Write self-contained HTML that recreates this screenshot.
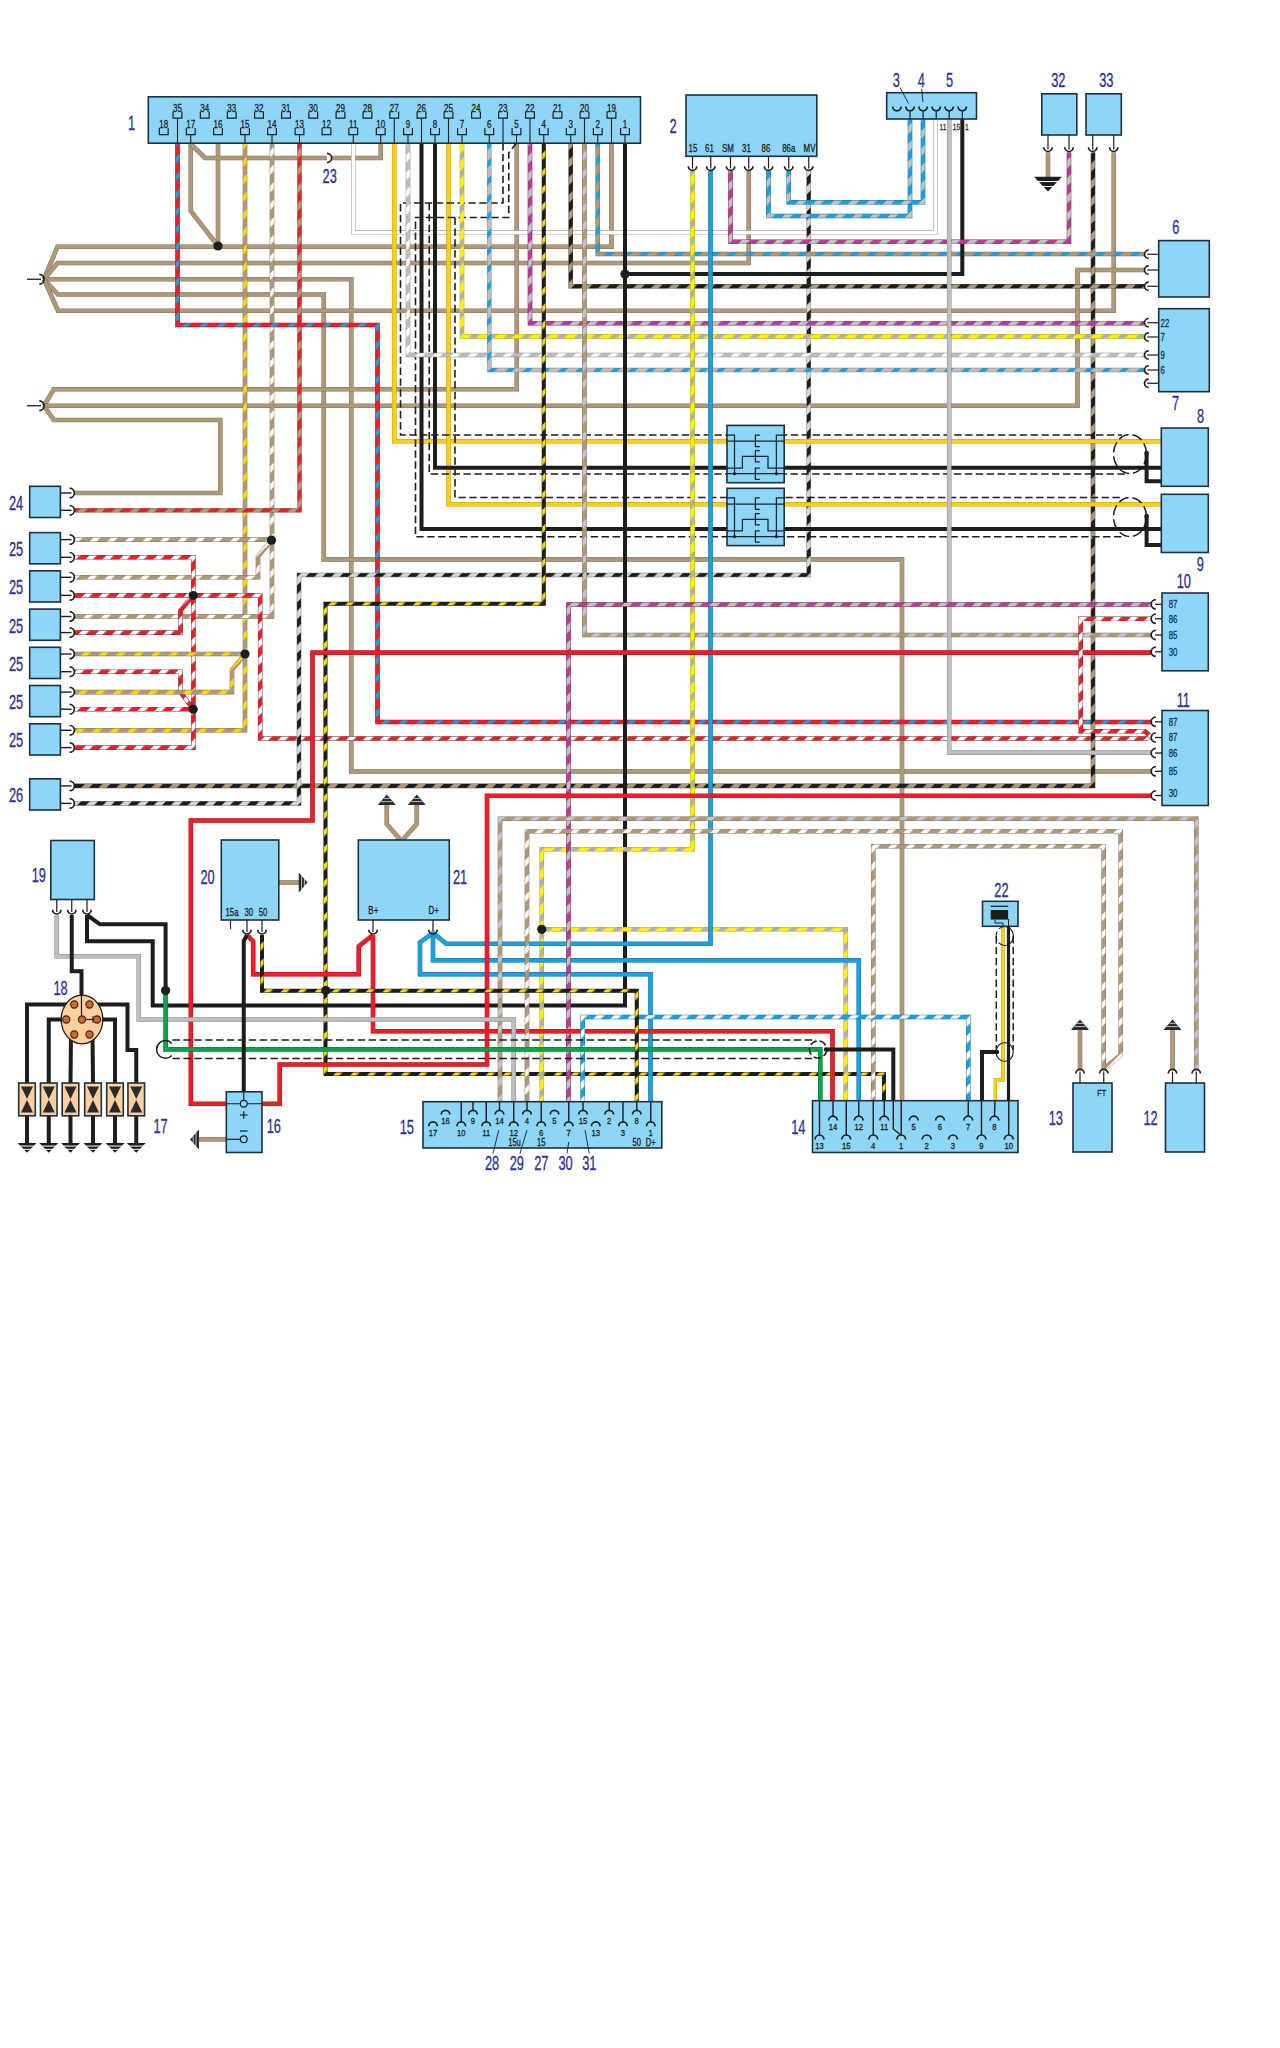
<!DOCTYPE html>
<html><head><meta charset="utf-8"><title>Wiring diagram</title>
<style>
html,body{margin:0;padding:0;background:#fff;}
body{width:1280px;height:2048px;overflow:hidden;font-family:"Liberation Sans",sans-serif;}
svg{display:block;font-family:"Liberation Sans",sans-serif;}
svg path{fill:none;stroke-linejoin:miter;stroke-linecap:butt;}
</style></head><body>
<svg width="1280" height="2048" viewBox="0 0 1280 2048">
<rect x="0" y="0" width="1280" height="2048" fill="#ffffff" stroke="none"/>
<defs>
<pattern id="p_b_g" width="12.4" height="12.4" patternUnits="userSpaceOnUse" patternTransform="rotate(45)"><rect width="12.4" height="12.4" fill="#1d9fe0"/><rect width="5.4" height="12.4" fill="#c4c4c4"/></pattern>
<pattern id="p_b_w" width="12" height="12" patternUnits="userSpaceOnUse" patternTransform="rotate(45)"><rect width="12" height="12" fill="#1d9fe0"/><rect width="5.4" height="12" fill="#ffffff"/></pattern>
<pattern id="p_br_b" width="12.4" height="12.4" patternUnits="userSpaceOnUse" patternTransform="rotate(45)"><rect width="12.4" height="12.4" fill="#b09979"/><rect width="5.6" height="12.4" fill="#1d9fe0"/></pattern>
<pattern id="p_br_g" width="12.4" height="12.4" patternUnits="userSpaceOnUse" patternTransform="rotate(45)"><rect width="12.4" height="12.4" fill="#b09979"/><rect width="5" height="12.4" fill="#c3c6cf"/></pattern>
<pattern id="p_br_r" width="12.4" height="12.4" patternUnits="userSpaceOnUse" patternTransform="rotate(45)"><rect width="12.4" height="12.4" fill="#b09979"/><rect width="7.2" height="12.4" fill="#e91f2a"/></pattern>
<pattern id="p_br_w" width="12.4" height="12.4" patternUnits="userSpaceOnUse" patternTransform="rotate(45)"><rect width="12.4" height="12.4" fill="#b09979"/><rect width="4.6" height="12.4" fill="#ffffff"/></pattern>
<pattern id="p_br_y" width="12.4" height="12.4" patternUnits="userSpaceOnUse" patternTransform="rotate(45)"><rect width="12.4" height="12.4" fill="#b09979"/><rect width="4.8" height="12.4" fill="#ffd800"/></pattern>
<pattern id="p_g_b" width="12.4" height="12.4" patternUnits="userSpaceOnUse" patternTransform="rotate(45)"><rect width="12.4" height="12.4" fill="#bebebe"/><rect width="4.8" height="12.4" fill="#1d9fe0"/></pattern>
<pattern id="p_g_w" width="12.4" height="12.4" patternUnits="userSpaceOnUse" patternTransform="rotate(45)"><rect width="12.4" height="12.4" fill="#bebebe"/><rect width="5.2" height="12.4" fill="#ffffff"/></pattern>
<pattern id="p_k_br" width="12.4" height="12.4" patternUnits="userSpaceOnUse" patternTransform="rotate(45)"><rect width="12.4" height="12.4" fill="#b09979"/><rect width="6.8" height="12.4" fill="#1d1d1b"/></pattern>
<pattern id="p_k_g" width="12" height="12" patternUnits="userSpaceOnUse" patternTransform="rotate(45)"><rect width="12" height="12" fill="#d6d6d6"/><rect width="6.2" height="12" fill="#1d1d1b"/></pattern>
<pattern id="p_k_y" width="12" height="12" patternUnits="userSpaceOnUse" patternTransform="rotate(45)"><rect width="12" height="12" fill="#1d1d1b"/><rect width="4.5" height="12" fill="#ffd800"/></pattern>
<pattern id="p_m_g" width="12.4" height="12.4" patternUnits="userSpaceOnUse" patternTransform="rotate(45)"><rect width="12.4" height="12.4" fill="#b4408f"/><rect width="5.6" height="12.4" fill="#c2c2c2"/></pattern>
<pattern id="p_r_b" width="12.4" height="12.4" patternUnits="userSpaceOnUse" patternTransform="rotate(45)"><rect width="12.4" height="12.4" fill="#e91f2a"/><rect width="4.4" height="12.4" fill="#1d9fe0"/></pattern>
<pattern id="p_r_w" width="12" height="12" patternUnits="userSpaceOnUse" patternTransform="rotate(45)"><rect width="12" height="12" fill="#e91f2a"/><rect width="5.2" height="12" fill="#ffffff"/></pattern>
<pattern id="p_y_g" width="12.4" height="12.4" patternUnits="userSpaceOnUse" patternTransform="rotate(45)"><rect width="12.4" height="12.4" fill="#fff200"/><rect width="5.4" height="12.4" fill="#b0b0b0"/></pattern>
</defs>
<path d="M611.50 143.00 L611.50 246.70 L57.50 246.70 L44.00 279.25" stroke="#84705a" stroke-width="4.6"/>
<path d="M611.50 143.00 L611.50 246.70 L57.50 246.70 L44.00 279.25" stroke="#b09979" stroke-width="3.7"/>
<path d="M748.75 171.00 L748.75 263.00 L57.50 263.00 L44.00 279.25" stroke="#84705a" stroke-width="4.6"/>
<path d="M748.75 171.00 L748.75 263.00 L57.50 263.00 L44.00 279.25" stroke="#b09979" stroke-width="3.7"/>
<path d="M44.00 279.25 L351.25 279.25 L351.25 771.50 L1151.00 771.50" stroke="#84705a" stroke-width="4.6"/>
<path d="M44.00 279.25 L351.25 279.25 L351.25 771.50 L1151.00 771.50" stroke="#b09979" stroke-width="3.7"/>
<path d="M44.00 279.25 L58.00 294.50 L323.75 294.50 L323.75 559.40 L902.00 559.40 L902.00 1100.70" stroke="#84705a" stroke-width="4.6"/>
<path d="M44.00 279.25 L58.00 294.50 L323.75 294.50 L323.75 559.40 L902.00 559.40 L902.00 1100.70" stroke="#b09979" stroke-width="3.7"/>
<path d="M44.00 279.25 L58.00 310.75 L1113.75 310.75 L1113.75 152.50" stroke="#84705a" stroke-width="4.6"/>
<path d="M44.00 279.25 L58.00 310.75 L1113.75 310.75 L1113.75 152.50" stroke="#b09979" stroke-width="3.7"/>
<path d="M44.00 405.75 L53.75 389.25 L516.75 389.25 L516.75 143.00" stroke="#84705a" stroke-width="4.6"/>
<path d="M44.00 405.75 L53.75 389.25 L516.75 389.25 L516.75 143.00" stroke="#b09979" stroke-width="3.7"/>
<path d="M44.00 405.75 L1077.50 405.75 L1077.50 270.00 L1144.00 270.00" stroke="#84705a" stroke-width="4.6"/>
<path d="M44.00 405.75 L1077.50 405.75 L1077.50 270.00 L1144.00 270.00" stroke="#b09979" stroke-width="3.7"/>
<path d="M44.00 405.75 L53.75 420.00 L220.30 420.00 L220.30 493.00 L75.00 493.00" stroke="#84705a" stroke-width="4.6"/>
<path d="M44.00 405.75 L53.75 420.00 L220.30 420.00 L220.30 493.00 L75.00 493.00" stroke="#b09979" stroke-width="3.7"/>
<path d="M218.00 143.00 L218.00 246.00" stroke="#84705a" stroke-width="4.6"/>
<path d="M218.00 143.00 L218.00 246.00" stroke="#b09979" stroke-width="3.7"/>
<path d="M190.75 143.00 L190.75 211.00 L218.00 246.00" stroke="#84705a" stroke-width="4.6"/>
<path d="M190.75 143.00 L190.75 211.00 L218.00 246.00" stroke="#b09979" stroke-width="3.7"/>
<path d="M190.75 144.00 L205.00 158.00 L380.75 158.00 L380.75 143.00" stroke="#84705a" stroke-width="4.6"/>
<path d="M190.75 144.00 L205.00 158.00 L380.75 158.00 L380.75 143.00" stroke="#b09979" stroke-width="3.7"/>
<path d="M353.25 143.00 L353.25 232.40 L935.50 232.40 L935.50 119.00" stroke="#8c8c8c" stroke-width="4.4"/>
<path d="M353.25 143.00 L353.25 232.40 L935.50 232.40 L935.50 119.00" stroke="#ffffff" stroke-width="3.5"/>
<path d="M245.00 143.00 L245.00 730.30 L75.00 730.30" stroke="#84705a" stroke-width="4.6"/>
<path d="M245.00 143.00 L245.00 730.30 L75.00 730.30" stroke="url(#p_br_y)" stroke-width="3.7"/>
<path d="M272.00 143.00 L272.00 616.50 L75.00 616.50" stroke="#84705a" stroke-width="4.6"/>
<path d="M272.00 143.00 L272.00 616.50 L75.00 616.50" stroke="url(#p_br_w)" stroke-width="3.7"/>
<path d="M299.50 143.00 L299.50 510.30 L75.00 510.30" stroke="#84705a" stroke-width="4.6"/>
<path d="M299.50 143.00 L299.50 510.30 L75.00 510.30" stroke="url(#p_br_r)" stroke-width="3.7"/>
<path d="M177.50 143.00 L177.50 325.00 L377.50 325.00 L377.50 722.00 L1151.00 722.00" stroke="#b5121b" stroke-width="4.6"/>
<path d="M177.50 143.00 L177.50 325.00 L377.50 325.00 L377.50 722.00 L1151.00 722.00" stroke="url(#p_r_b)" stroke-width="3.7"/>
<path d="M75.00 539.60 L271.50 539.60" stroke="#84705a" stroke-width="4.6"/>
<path d="M75.00 539.60 L271.50 539.60" stroke="url(#p_br_w)" stroke-width="3.7"/>
<path d="M75.00 577.30 L258.00 577.30 L258.00 556.50 L271.50 540.50" stroke="#84705a" stroke-width="4.6"/>
<path d="M75.00 577.30 L258.00 577.30 L258.00 556.50 L271.50 540.50" stroke="url(#p_br_w)" stroke-width="3.7"/>
<path d="M75.00 557.30 L193.40 557.30 L193.40 747.60 L75.00 747.60" stroke="#6b3a3a" stroke-width="4.6"/>
<path d="M75.00 557.30 L193.40 557.30 L193.40 747.60 L75.00 747.60" stroke="url(#p_r_w)" stroke-width="3.7"/>
<path d="M75.00 595.40 L260.20 595.40 L260.20 738.50 L1145.00 738.50 L1151.00 737.50" stroke="#6b3a3a" stroke-width="4.6"/>
<path d="M75.00 595.40 L260.20 595.40 L260.20 738.50 L1145.00 738.50 L1151.00 737.50" stroke="url(#p_r_w)" stroke-width="3.7"/>
<path d="M75.00 632.60 L180.50 632.60 L180.50 610.50 L193.00 595.60" stroke="#6b3a3a" stroke-width="4.6"/>
<path d="M75.00 632.60 L180.50 632.60 L180.50 610.50 L193.00 595.60" stroke="url(#p_r_w)" stroke-width="3.7"/>
<path d="M75.00 654.00 L245.00 654.00" stroke="#84705a" stroke-width="4.6"/>
<path d="M75.00 654.00 L245.00 654.00" stroke="url(#p_br_y)" stroke-width="3.7"/>
<path d="M75.00 671.70 L180.50 671.70 L180.50 692.00 L193.00 709.00" stroke="#6b3a3a" stroke-width="4.6"/>
<path d="M75.00 671.70 L180.50 671.70 L180.50 692.00 L193.00 709.00" stroke="url(#p_r_w)" stroke-width="3.7"/>
<path d="M75.00 692.10 L232.00 692.10 L232.00 669.80 L245.00 654.20" stroke="#84705a" stroke-width="4.6"/>
<path d="M75.00 692.10 L232.00 692.10 L232.00 669.80 L245.00 654.20" stroke="url(#p_br_y)" stroke-width="3.7"/>
<path d="M75.00 709.20 L193.00 709.20" stroke="#6b3a3a" stroke-width="4.6"/>
<path d="M75.00 709.20 L193.00 709.20" stroke="url(#p_r_w)" stroke-width="3.7"/>
<path d="M75.00 785.90 L1093.00 785.90 L1093.00 152.50" stroke="#5a4c3c" stroke-width="4.6"/>
<path d="M75.00 785.90 L1093.00 785.90 L1093.00 152.50" stroke="url(#p_k_br)" stroke-width="3.7"/>
<path d="M75.00 803.40 L299.00 803.40 L299.00 575.00 L808.75 575.00 L808.75 171.00" stroke="#777777" stroke-width="4.6"/>
<path d="M75.00 803.40 L299.00 803.40 L299.00 575.00 L808.75 575.00 L808.75 171.00" stroke="url(#p_k_g)" stroke-width="3.7"/>
<path d="M394.25 143.00 L394.25 441.25 L1161.00 441.25" stroke="#c49612" stroke-width="4.6"/>
<path d="M394.25 143.00 L394.25 441.25 L1161.00 441.25" stroke="#fdd015" stroke-width="3.7"/>
<path d="M448.50 143.00 L448.50 504.30 L1161.00 504.30" stroke="#c49612" stroke-width="4.6"/>
<path d="M448.50 143.00 L448.50 504.30 L1161.00 504.30" stroke="#fdd015" stroke-width="3.7"/>
<path d="M421.50 143.00 L421.50 528.90 L1161.00 528.90" stroke="#1d1d1b" stroke-width="4.0"/>
<path d="M435.00 143.00 L435.00 467.80 L1161.00 467.80" stroke="#1d1d1b" stroke-width="4.0"/>
<path d="M1146.60 453.00 L1146.60 481.30 L1161.00 481.30" stroke="#1d1d1b" stroke-width="4.0"/>
<path d="M1146.60 516.00 L1146.60 545.00 L1161.00 545.00" stroke="#1d1d1b" stroke-width="4.0"/>
<path d="M503.00 143.00 L503.00 203.00 L400.50 203.00 L400.50 435.00 L1122.00 435.00" stroke="#1d1d1b" stroke-width="1.60" stroke-dasharray="7.4 3.5"/>
<path d="M429.25 203.00 L429.25 474.00 L1125.00 474.00" stroke="#1d1d1b" stroke-width="1.60" stroke-dasharray="7.4 3.5"/>
<path d="M516.50 143.00 L508.75 153.00 L508.75 217.50 L415.50 217.50 L415.50 536.80 L1125.00 536.80" stroke="#1d1d1b" stroke-width="1.60" stroke-dasharray="7.4 3.5"/>
<path d="M455.00 217.50 L455.00 497.50 L1122.00 497.50" stroke="#1d1d1b" stroke-width="1.60" stroke-dasharray="7.4 3.5"/>
<ellipse cx="1130" cy="454" rx="16.5" ry="19.5" fill="none" stroke="#1d1d1b" stroke-width="1.5" stroke-dasharray="10.5 4"/>
<ellipse cx="1130" cy="517" rx="16.5" ry="19.5" fill="none" stroke="#1d1d1b" stroke-width="1.5" stroke-dasharray="10.5 4"/>
<path d="M408.00 143.00 L408.00 355.00 L1144.00 355.00" stroke="#8a8a8a" stroke-width="4.6"/>
<path d="M408.00 143.00 L408.00 355.00 L1144.00 355.00" stroke="url(#p_g_w)" stroke-width="3.7"/>
<path d="M462.00 143.00 L462.00 336.40 L1144.00 336.40" stroke="#b8ae00" stroke-width="4.6"/>
<path d="M462.00 143.00 L462.00 336.40 L1144.00 336.40" stroke="url(#p_y_g)" stroke-width="3.7"/>
<path d="M489.25 143.00 L489.25 370.00 L1144.00 370.00" stroke="#8a8a8a" stroke-width="4.6"/>
<path d="M489.25 143.00 L489.25 370.00 L1144.00 370.00" stroke="url(#p_g_b)" stroke-width="3.7"/>
<path d="M530.00 143.00 L530.00 323.20 L1144.00 323.20" stroke="#7d2865" stroke-width="4.6"/>
<path d="M530.00 143.00 L530.00 323.20 L1144.00 323.20" stroke="url(#p_m_g)" stroke-width="3.7"/>
<path d="M543.75 143.00 L543.75 603.80 L325.50 603.80 L325.50 1074.00 L884.00 1074.00 L884.00 1100.70" stroke="#1d1d1b" stroke-width="4.0"/>
<path d="M543.75 143.00 L543.75 603.80 L325.50 603.80 L325.50 1074.00 L884.00 1074.00 L884.00 1100.70" stroke="url(#p_k_y)" stroke-width="3.1"/>
<path d="M570.75 143.00 L570.75 286.30 L1144.00 286.30" stroke="#5a4c3c" stroke-width="4.6"/>
<path d="M570.75 143.00 L570.75 286.30 L1144.00 286.30" stroke="url(#p_k_br)" stroke-width="3.7"/>
<path d="M584.50 143.00 L584.50 635.00 L1151.00 635.00" stroke="#84705a" stroke-width="4.6"/>
<path d="M584.50 143.00 L584.50 635.00 L1151.00 635.00" stroke="url(#p_br_g)" stroke-width="3.7"/>
<path d="M597.75 143.00 L597.75 254.00 L1144.00 254.00" stroke="#84705a" stroke-width="4.6"/>
<path d="M597.75 143.00 L597.75 254.00 L1144.00 254.00" stroke="url(#p_br_b)" stroke-width="3.7"/>
<path d="M625.00 143.00 L625.00 1005.50 L152.70 1005.50 L152.70 941.30 L87.00 941.30 L87.00 915.00" stroke="#1d1d1b" stroke-width="4.0"/>
<path d="M625.00 274.10 L962.30 274.10 L962.30 119.00" stroke="#1d1d1b" stroke-width="4.0"/>
<path d="M692.50 171.00 L692.50 849.30 L541.75 849.30 L541.75 1101.70" stroke="#b8ae00" stroke-width="4.6"/>
<path d="M692.50 171.00 L692.50 849.30 L541.75 849.30 L541.75 1101.70" stroke="url(#p_y_g)" stroke-width="3.7"/>
<path d="M541.75 929.30 L845.75 929.30 L845.75 1100.70" stroke="#b8ae00" stroke-width="4.6"/>
<path d="M541.75 929.30 L845.75 929.30 L845.75 1100.70" stroke="url(#p_y_g)" stroke-width="3.7"/>
<path d="M710.50 171.00 L710.50 943.80 L446.30 943.80 L433.00 933.00" stroke="#14709c" stroke-width="4.6"/>
<path d="M710.50 171.00 L710.50 943.80 L446.30 943.80 L433.00 933.00" stroke="#1d9fe0" stroke-width="3.7"/>
<path d="M433.00 933.00 L433.00 960.30 L858.75 960.30 L858.75 1100.70" stroke="#14709c" stroke-width="4.6"/>
<path d="M433.00 933.00 L433.00 960.30 L858.75 960.30 L858.75 1100.70" stroke="#1d9fe0" stroke-width="3.7"/>
<path d="M433.00 933.00 L420.00 942.50 L420.00 974.30 L650.50 974.30 L650.50 1101.70" stroke="#14709c" stroke-width="4.6"/>
<path d="M433.00 933.00 L420.00 942.50 L420.00 974.30 L650.50 974.30 L650.50 1101.70" stroke="#1d9fe0" stroke-width="3.7"/>
<path d="M730.50 171.00 L730.50 241.80 L1069.00 241.80 L1069.00 152.50" stroke="#7d2865" stroke-width="4.6"/>
<path d="M730.50 171.00 L730.50 241.80 L1069.00 241.80 L1069.00 152.50" stroke="url(#p_m_g)" stroke-width="3.7"/>
<path d="M768.50 171.00 L768.50 216.00 L910.00 216.00 L910.00 119.00" stroke="#14709c" stroke-width="4.6"/>
<path d="M768.50 171.00 L768.50 216.00 L910.00 216.00 L910.00 119.00" stroke="url(#p_b_g)" stroke-width="3.7"/>
<path d="M788.75 171.00 L788.75 202.30 L923.00 202.30 L923.00 119.00" stroke="#14709c" stroke-width="4.6"/>
<path d="M788.75 171.00 L788.75 202.30 L923.00 202.30 L923.00 119.00" stroke="url(#p_b_g)" stroke-width="3.7"/>
<path d="M949.20 119.00 L949.20 752.60 L1151.00 752.60" stroke="#8a8a8a" stroke-width="4.6"/>
<path d="M949.20 119.00 L949.20 752.60 L1151.00 752.60" stroke="#bebebe" stroke-width="3.7"/>
<path d="M1048.00 152.50 L1048.00 177.00" stroke="#84705a" stroke-width="4.6"/>
<path d="M1048.00 152.50 L1048.00 177.00" stroke="#b09979" stroke-width="3.7"/>
<path d="M568.50 1101.70 L568.50 604.50 L1151.00 604.50" stroke="#7d2865" stroke-width="4.6"/>
<path d="M568.50 1101.70 L568.50 604.50 L1151.00 604.50" stroke="url(#p_m_g)" stroke-width="3.7"/>
<path d="M1151.00 652.60 L312.50 652.60 L312.50 820.50 L190.80 820.50 L190.80 1103.75 L226.25 1103.75" stroke="#b5121b" stroke-width="4.6"/>
<path d="M1151.00 652.60 L312.50 652.60 L312.50 820.50 L190.80 820.50 L190.80 1103.75 L226.25 1103.75" stroke="#e91f2a" stroke-width="3.7"/>
<path d="M1151.00 795.80 L487.00 795.80 L487.00 1064.50 L279.70 1064.50 L279.70 1103.75 L262.00 1103.75" stroke="#b5121b" stroke-width="4.6"/>
<path d="M1151.00 795.80 L487.00 795.80 L487.00 1064.50 L279.70 1064.50 L279.70 1103.75 L262.00 1103.75" stroke="#e91f2a" stroke-width="3.7"/>
<path d="M247.00 935.00 L253.20 941.50 L253.20 974.30 L358.75 974.30 L358.75 946.30 L373.00 935.00" stroke="#b5121b" stroke-width="4.6"/>
<path d="M247.00 935.00 L253.20 941.50 L253.20 974.30 L358.75 974.30 L358.75 946.30 L373.00 935.00" stroke="#e91f2a" stroke-width="3.7"/>
<path d="M373.00 935.00 L373.00 1031.30 L832.50 1031.30 L832.50 1100.70" stroke="#b5121b" stroke-width="4.6"/>
<path d="M373.00 935.00 L373.00 1031.30 L832.50 1031.30 L832.50 1100.70" stroke="#e91f2a" stroke-width="3.7"/>
<path d="M1151.00 618.80 L1080.75 618.80 L1080.75 731.30 L1145.00 731.30 L1151.00 737.00" stroke="#6b3a3a" stroke-width="4.6"/>
<path d="M1151.00 618.80 L1080.75 618.80 L1080.75 731.30 L1145.00 731.30 L1151.00 737.00" stroke="url(#p_r_w)" stroke-width="3.7"/>
<path d="M500.00 1101.70 L500.00 818.70 L1196.25 818.70 L1196.25 1069.00" stroke="#84705a" stroke-width="4.6"/>
<path d="M500.00 1101.70 L500.00 818.70 L1196.25 818.70 L1196.25 1069.00" stroke="url(#p_br_g)" stroke-width="3.7"/>
<path d="M527.00 1101.70 L527.00 831.20 L1120.75 831.20 L1120.75 1055.00 L1104.50 1068.00" stroke="#84705a" stroke-width="4.6"/>
<path d="M527.00 1101.70 L527.00 831.20 L1120.75 831.20 L1120.75 1055.00 L1104.50 1068.00" stroke="url(#p_br_w)" stroke-width="3.7"/>
<path d="M873.25 1100.70 L873.25 846.30 L1103.75 846.30 L1103.75 1069.00" stroke="#84705a" stroke-width="4.6"/>
<path d="M873.25 1100.70 L873.25 846.30 L1103.75 846.30 L1103.75 1069.00" stroke="url(#p_br_w)" stroke-width="3.7"/>
<path d="M582.70 1101.70 L582.70 1017.00 L968.25 1017.00 L968.25 1100.70" stroke="#14709c" stroke-width="4.6"/>
<path d="M582.70 1101.70 L582.70 1017.00 L968.25 1017.00 L968.25 1100.70" stroke="url(#p_b_w)" stroke-width="3.7"/>
<path d="M56.75 915.00 L56.75 956.30 L138.75 956.30 L138.75 1019.50 L513.75 1019.50 L513.75 1101.70" stroke="#8a8a8a" stroke-width="4.6"/>
<path d="M56.75 915.00 L56.75 956.30 L138.75 956.30 L138.75 1019.50 L513.75 1019.50 L513.75 1101.70" stroke="#bebebe" stroke-width="3.7"/>
<path d="M71.75 915.00 L71.75 971.30 L81.50 971.30 L81.50 996.00" stroke="#1d1d1b" stroke-width="4.0"/>
<path d="M87.00 915.00 L100.00 924.30 L165.60 924.30 L165.60 990.50" stroke="#1d1d1b" stroke-width="4.0"/>
<path d="M165.60 990.50 L165.60 1049.40 L820.30 1049.40 L820.30 1100.70" stroke="#08713a" stroke-width="4.6"/>
<path d="M165.60 990.50 L165.60 1049.40 L820.30 1049.40 L820.30 1100.70" stroke="#0ca34c" stroke-width="3.7"/>
<path d="M172.50 1040.00 L816.00 1040.00" stroke="#1d1d1b" stroke-width="1.60" stroke-dasharray="7.4 3.5"/>
<path d="M172.50 1058.50 L816.00 1058.50" stroke="#1d1d1b" stroke-width="1.60" stroke-dasharray="7.4 3.5"/>
<path d="M171.8 1043.4 A8.8 8.8 0 1 0 171.8 1055.4" stroke="#1d1d1b" stroke-width="1.5"/>
<circle cx="818" cy="1049.4" r="8.6" fill="none" stroke="#1d1d1b" stroke-width="1.5" stroke-dasharray="7.5 3"/>
<path d="M826.00 1049.40 L893.30 1049.40 L893.30 1100.70" stroke="#1d1d1b" stroke-width="4.0"/>
<path d="M247.00 935.00 L243.75 941.00 L243.75 1091.70" stroke="#1d1d1b" stroke-width="4.0"/>
<path d="M262.00 935.00 L262.00 990.70 L636.75 990.70 L636.75 1101.70" stroke="#1d1d1b" stroke-width="4.0"/>
<path d="M262.00 935.00 L262.00 990.70 L636.75 990.70 L636.75 1101.70" stroke="url(#p_k_y)" stroke-width="3.1"/>
<path d="M1003.00 926.00 L1003.00 1080.00 L995.30 1080.00 L995.30 1100.70" stroke="#c49612" stroke-width="3.4"/>
<path d="M1003.00 926.00 L1003.00 1080.00 L995.30 1080.00 L995.30 1100.70" stroke="#fdd015" stroke-width="2.5"/>
<path d="M1008.50 926.00 L1008.50 1100.70" stroke="#1d1d1b" stroke-width="3.2"/>
<path d="M997.00 1052.00 L982.00 1052.00 L982.00 1100.70" stroke="#1d1d1b" stroke-width="4.0"/>
<path d="M996.30 936.00 L996.30 1050.00" stroke="#1d1d1b" stroke-width="1.50" stroke-dasharray="7.4 3.5"/>
<path d="M1013.20 936.00 L1013.20 1050.00" stroke="#1d1d1b" stroke-width="1.50" stroke-dasharray="7.4 3.5"/>
<ellipse cx="1004.7" cy="936" rx="8.6" ry="9.5" fill="none" stroke="#1d1d1b" stroke-width="1.1" stroke-dasharray="9 3"/>
<ellipse cx="1004.7" cy="1052" rx="8.6" ry="9.5" fill="none" stroke="#1d1d1b" stroke-width="1.1"/>
<path d="M386.75 805.00 L386.75 824.00 L400.50 840.00" stroke="#84705a" stroke-width="4.6"/>
<path d="M386.75 805.00 L386.75 824.00 L400.50 840.00" stroke="#b09979" stroke-width="3.7"/>
<path d="M416.75 805.00 L416.75 824.00 L402.50 840.00" stroke="#84705a" stroke-width="4.6"/>
<path d="M416.75 805.00 L416.75 824.00 L402.50 840.00" stroke="#b09979" stroke-width="3.7"/>
<path d="M1080.00 1069.00 L1080.00 1029.00" stroke="#84705a" stroke-width="4.6"/>
<path d="M1080.00 1069.00 L1080.00 1029.00" stroke="#b09979" stroke-width="3.7"/>
<path d="M1172.50 1069.00 L1172.50 1029.00" stroke="#84705a" stroke-width="4.6"/>
<path d="M1172.50 1069.00 L1172.50 1029.00" stroke="#b09979" stroke-width="3.7"/>
<path d="M278.75 882.50 L299.00 882.50" stroke="#84705a" stroke-width="4.6"/>
<path d="M278.75 882.50 L299.00 882.50" stroke="#b09979" stroke-width="3.7"/>
<path d="M226.25 1139.30 L198.50 1139.30" stroke="#84705a" stroke-width="4.6"/>
<path d="M226.25 1139.30 L198.50 1139.30" stroke="#b09979" stroke-width="3.7"/>
<path d="M74.25 1004.50 L27.00 1004.50 L27.00 1083.00" stroke="#1d1d1b" stroke-width="4.0"/>
<path d="M66.25 1019.50 L48.75 1019.50 L48.75 1083.00" stroke="#1d1d1b" stroke-width="4.0"/>
<path d="M71.00 1034.00 L70.50 1083.00" stroke="#1d1d1b" stroke-width="4.0"/>
<path d="M92.50 1034.00 L93.00 1083.00" stroke="#1d1d1b" stroke-width="4.0"/>
<path d="M97.00 1019.50 L115.00 1019.50 L115.00 1083.00" stroke="#1d1d1b" stroke-width="4.0"/>
<path d="M89.50 1004.50 L127.50 1004.50 L127.50 1050.00 L136.25 1050.00 L136.25 1083.00" stroke="#1d1d1b" stroke-width="4.0"/>
<path d="M27.00 1115.00 L27.00 1143.50" stroke="#1d1d1b" stroke-width="4.0"/>
<path d="M48.75 1115.00 L48.75 1143.50" stroke="#1d1d1b" stroke-width="4.0"/>
<path d="M70.50 1115.00 L70.50 1143.50" stroke="#1d1d1b" stroke-width="4.0"/>
<path d="M93.00 1115.00 L93.00 1143.50" stroke="#1d1d1b" stroke-width="4.0"/>
<path d="M115.00 1115.00 L115.00 1143.50" stroke="#1d1d1b" stroke-width="4.0"/>
<path d="M136.25 1115.00 L136.25 1143.50" stroke="#1d1d1b" stroke-width="4.0"/>
<circle cx="218.00" cy="246.00" r="4.60" fill="#1d1d1b" stroke="none"/>
<circle cx="625.00" cy="274.10" r="4.60" fill="#1d1d1b" stroke="none"/>
<circle cx="271.50" cy="540.20" r="4.60" fill="#1d1d1b" stroke="none"/>
<circle cx="193.20" cy="595.50" r="4.60" fill="#1d1d1b" stroke="none"/>
<circle cx="245.00" cy="654.00" r="4.60" fill="#1d1d1b" stroke="none"/>
<circle cx="193.20" cy="709.20" r="4.60" fill="#1d1d1b" stroke="none"/>
<circle cx="165.60" cy="990.50" r="4.60" fill="#1d1d1b" stroke="none"/>
<circle cx="325.80" cy="990.50" r="4.60" fill="#1d1d1b" stroke="none"/>
<circle cx="541.75" cy="929.30" r="4.60" fill="#1d1d1b" stroke="none"/>
<circle cx="1146.60" cy="453.00" r="2.30" fill="#1d1d1b" stroke="none"/>
<circle cx="1146.60" cy="516.00" r="2.30" fill="#1d1d1b" stroke="none"/>
<circle cx="826.00" cy="1049.40" r="2.20" fill="#1d1d1b" stroke="none"/>
<circle cx="997.00" cy="1052.00" r="2.20" fill="#1d1d1b" stroke="none"/>
<polygon points="1034.00,176.80 1062.00,176.80 1048.00,191.60" fill="#1d1d1b" stroke="none"/>
<rect x="1034.00" y="181.03" width="28.00" height="1.00" fill="#ffffff" stroke="none"/>
<rect x="1034.00" y="185.97" width="28.00" height="1.00" fill="#ffffff" stroke="none"/>
<polygon points="17.50,1143.00 36.50,1143.00 27.00,1152.80" fill="#1d1d1b" stroke="none"/>
<rect x="17.50" y="1145.57" width="19.00" height="1.00" fill="#ffffff" stroke="none"/>
<rect x="17.50" y="1148.83" width="19.00" height="1.00" fill="#ffffff" stroke="none"/>
<polygon points="39.25,1143.00 58.25,1143.00 48.75,1152.80" fill="#1d1d1b" stroke="none"/>
<rect x="39.25" y="1145.57" width="19.00" height="1.00" fill="#ffffff" stroke="none"/>
<rect x="39.25" y="1148.83" width="19.00" height="1.00" fill="#ffffff" stroke="none"/>
<polygon points="61.00,1143.00 80.00,1143.00 70.50,1152.80" fill="#1d1d1b" stroke="none"/>
<rect x="61.00" y="1145.57" width="19.00" height="1.00" fill="#ffffff" stroke="none"/>
<rect x="61.00" y="1148.83" width="19.00" height="1.00" fill="#ffffff" stroke="none"/>
<polygon points="83.50,1143.00 102.50,1143.00 93.00,1152.80" fill="#1d1d1b" stroke="none"/>
<rect x="83.50" y="1145.57" width="19.00" height="1.00" fill="#ffffff" stroke="none"/>
<rect x="83.50" y="1148.83" width="19.00" height="1.00" fill="#ffffff" stroke="none"/>
<polygon points="105.50,1143.00 124.50,1143.00 115.00,1152.80" fill="#1d1d1b" stroke="none"/>
<rect x="105.50" y="1145.57" width="19.00" height="1.00" fill="#ffffff" stroke="none"/>
<rect x="105.50" y="1148.83" width="19.00" height="1.00" fill="#ffffff" stroke="none"/>
<polygon points="126.75,1143.00 145.75,1143.00 136.25,1152.80" fill="#1d1d1b" stroke="none"/>
<rect x="126.75" y="1145.57" width="19.00" height="1.00" fill="#ffffff" stroke="none"/>
<rect x="126.75" y="1148.83" width="19.00" height="1.00" fill="#ffffff" stroke="none"/>
<polygon points="377.75,805.00 395.75,805.00 386.75,794.50" fill="#2a2a2a" stroke="none"/>
<path d="M381.25 801.60 L392.25 801.60" stroke="#e6e6e6" stroke-width="0.80"/>
<path d="M383.75 798.40 L389.75 798.40" stroke="#e6e6e6" stroke-width="0.80"/>
<polygon points="407.75,805.00 425.75,805.00 416.75,794.50" fill="#2a2a2a" stroke="none"/>
<path d="M411.25 801.60 L422.25 801.60" stroke="#e6e6e6" stroke-width="0.80"/>
<path d="M413.75 798.40 L419.75 798.40" stroke="#e6e6e6" stroke-width="0.80"/>
<polygon points="1071.00,1030.00 1089.00,1030.00 1080.00,1019.50" fill="#2a2a2a" stroke="none"/>
<path d="M1074.50 1026.60 L1085.50 1026.60" stroke="#e6e6e6" stroke-width="0.80"/>
<path d="M1077.00 1023.40 L1083.00 1023.40" stroke="#e6e6e6" stroke-width="0.80"/>
<polygon points="1163.50,1030.00 1181.50,1030.00 1172.50,1019.50" fill="#2a2a2a" stroke="none"/>
<path d="M1167.00 1026.60 L1178.00 1026.60" stroke="#e6e6e6" stroke-width="0.80"/>
<path d="M1169.50 1023.40 L1175.50 1023.40" stroke="#e6e6e6" stroke-width="0.80"/>
<polygon points="298.75,872.50 298.75,892.50 307.50,882.50" fill="#2a2a2a" stroke="none"/>
<path d="M301.60 876.00 L301.60 889.00" stroke="#e6e6e6" stroke-width="0.80"/>
<path d="M304.40 879.00 L304.40 886.00" stroke="#e6e6e6" stroke-width="0.80"/>
<polygon points="199.00,1129.50 199.00,1149.50 190.00,1139.50" fill="#2a2a2a" stroke="none"/>
<path d="M196.00 1133.00 L196.00 1146.00" stroke="#e6e6e6" stroke-width="0.80"/>
<path d="M193.20 1136.00 L193.20 1143.00" stroke="#e6e6e6" stroke-width="0.80"/>
<rect x="148.30" y="96.80" width="492.20" height="46.40" fill="#8dd6f7" stroke="#1c3040" stroke-width="1.6"/>
<path d="M173.10 111.50 L173.10 118.20 L181.90 118.20 L181.90 111.50" stroke="#1d1d1b" stroke-width="1.20"/>
<text transform="translate(177.50 111.60) scale(0.80 1)" font-size="10.0" fill="#1d1d1b" text-anchor="middle" stroke="#1d1d1b" stroke-width="0.30">35</text>
<path d="M177.50 118.20 L177.50 143.00" stroke="#1d1d1b" stroke-width="1.10"/>
<path d="M200.35 111.50 L200.35 118.20 L209.15 118.20 L209.15 111.50" stroke="#1d1d1b" stroke-width="1.20"/>
<text transform="translate(204.75 111.60) scale(0.80 1)" font-size="10.0" fill="#1d1d1b" text-anchor="middle" stroke="#1d1d1b" stroke-width="0.30">34</text>
<path d="M227.35 111.50 L227.35 118.20 L236.15 118.20 L236.15 111.50" stroke="#1d1d1b" stroke-width="1.20"/>
<text transform="translate(231.75 111.60) scale(0.80 1)" font-size="10.0" fill="#1d1d1b" text-anchor="middle" stroke="#1d1d1b" stroke-width="0.30">33</text>
<path d="M254.60 111.50 L254.60 118.20 L263.40 118.20 L263.40 111.50" stroke="#1d1d1b" stroke-width="1.20"/>
<text transform="translate(259.00 111.60) scale(0.80 1)" font-size="10.0" fill="#1d1d1b" text-anchor="middle" stroke="#1d1d1b" stroke-width="0.30">32</text>
<path d="M281.60 111.50 L281.60 118.20 L290.40 118.20 L290.40 111.50" stroke="#1d1d1b" stroke-width="1.20"/>
<text transform="translate(286.00 111.60) scale(0.80 1)" font-size="10.0" fill="#1d1d1b" text-anchor="middle" stroke="#1d1d1b" stroke-width="0.30">31</text>
<path d="M308.85 111.50 L308.85 118.20 L317.65 118.20 L317.65 111.50" stroke="#1d1d1b" stroke-width="1.20"/>
<text transform="translate(313.25 111.60) scale(0.80 1)" font-size="10.0" fill="#1d1d1b" text-anchor="middle" stroke="#1d1d1b" stroke-width="0.30">30</text>
<path d="M336.10 111.50 L336.10 118.20 L344.90 118.20 L344.90 111.50" stroke="#1d1d1b" stroke-width="1.20"/>
<text transform="translate(340.50 111.60) scale(0.80 1)" font-size="10.0" fill="#1d1d1b" text-anchor="middle" stroke="#1d1d1b" stroke-width="0.30">29</text>
<path d="M363.10 111.50 L363.10 118.20 L371.90 118.20 L371.90 111.50" stroke="#1d1d1b" stroke-width="1.20"/>
<text transform="translate(367.50 111.60) scale(0.80 1)" font-size="10.0" fill="#1d1d1b" text-anchor="middle" stroke="#1d1d1b" stroke-width="0.30">28</text>
<path d="M389.85 111.50 L389.85 118.20 L398.65 118.20 L398.65 111.50" stroke="#1d1d1b" stroke-width="1.20"/>
<text transform="translate(394.25 111.60) scale(0.80 1)" font-size="10.0" fill="#1d1d1b" text-anchor="middle" stroke="#1d1d1b" stroke-width="0.30">27</text>
<path d="M394.25 118.20 L394.25 143.00" stroke="#1d1d1b" stroke-width="1.10"/>
<path d="M417.10 111.50 L417.10 118.20 L425.90 118.20 L425.90 111.50" stroke="#1d1d1b" stroke-width="1.20"/>
<text transform="translate(421.50 111.60) scale(0.80 1)" font-size="10.0" fill="#1d1d1b" text-anchor="middle" stroke="#1d1d1b" stroke-width="0.30">26</text>
<path d="M421.50 118.20 L421.50 143.00" stroke="#1d1d1b" stroke-width="1.10"/>
<path d="M444.10 111.50 L444.10 118.20 L452.90 118.20 L452.90 111.50" stroke="#1d1d1b" stroke-width="1.20"/>
<text transform="translate(448.50 111.60) scale(0.80 1)" font-size="10.0" fill="#1d1d1b" text-anchor="middle" stroke="#1d1d1b" stroke-width="0.30">25</text>
<path d="M448.50 118.20 L448.50 143.00" stroke="#1d1d1b" stroke-width="1.10"/>
<path d="M471.60 111.50 L471.60 118.20 L480.40 118.20 L480.40 111.50" stroke="#1d1d1b" stroke-width="1.20"/>
<text transform="translate(476.00 111.60) scale(0.80 1)" font-size="10.0" fill="#1d1d1b" text-anchor="middle" stroke="#1d1d1b" stroke-width="0.30">24</text>
<path d="M498.60 111.50 L498.60 118.20 L507.40 118.20 L507.40 111.50" stroke="#1d1d1b" stroke-width="1.20"/>
<text transform="translate(503.00 111.60) scale(0.80 1)" font-size="10.0" fill="#1d1d1b" text-anchor="middle" stroke="#1d1d1b" stroke-width="0.30">23</text>
<path d="M503.00 118.20 L503.00 143.00" stroke="#1d1d1b" stroke-width="1.10"/>
<path d="M525.60 111.50 L525.60 118.20 L534.40 118.20 L534.40 111.50" stroke="#1d1d1b" stroke-width="1.20"/>
<text transform="translate(530.00 111.60) scale(0.80 1)" font-size="10.0" fill="#1d1d1b" text-anchor="middle" stroke="#1d1d1b" stroke-width="0.30">22</text>
<path d="M530.00 118.20 L530.00 143.00" stroke="#1d1d1b" stroke-width="1.10"/>
<path d="M553.10 111.50 L553.10 118.20 L561.90 118.20 L561.90 111.50" stroke="#1d1d1b" stroke-width="1.20"/>
<text transform="translate(557.50 111.60) scale(0.80 1)" font-size="10.0" fill="#1d1d1b" text-anchor="middle" stroke="#1d1d1b" stroke-width="0.30">21</text>
<path d="M580.10 111.50 L580.10 118.20 L588.90 118.20 L588.90 111.50" stroke="#1d1d1b" stroke-width="1.20"/>
<text transform="translate(584.50 111.60) scale(0.80 1)" font-size="10.0" fill="#1d1d1b" text-anchor="middle" stroke="#1d1d1b" stroke-width="0.30">20</text>
<path d="M584.50 118.20 L584.50 143.00" stroke="#1d1d1b" stroke-width="1.10"/>
<path d="M607.10 111.50 L607.10 118.20 L615.90 118.20 L615.90 111.50" stroke="#1d1d1b" stroke-width="1.20"/>
<text transform="translate(611.50 111.60) scale(0.80 1)" font-size="10.0" fill="#1d1d1b" text-anchor="middle" stroke="#1d1d1b" stroke-width="0.30">19</text>
<path d="M611.50 118.20 L611.50 143.00" stroke="#1d1d1b" stroke-width="1.10"/>
<path d="M159.35 128.00 L159.35 134.70 L168.15 134.70 L168.15 128.00" stroke="#1d1d1b" stroke-width="1.20"/>
<text transform="translate(163.75 128.10) scale(0.80 1)" font-size="10.0" fill="#1d1d1b" text-anchor="middle" stroke="#1d1d1b" stroke-width="0.30">18</text>
<path d="M186.35 128.00 L186.35 134.70 L195.15 134.70 L195.15 128.00" stroke="#1d1d1b" stroke-width="1.20"/>
<text transform="translate(190.75 128.10) scale(0.80 1)" font-size="10.0" fill="#1d1d1b" text-anchor="middle" stroke="#1d1d1b" stroke-width="0.30">17</text>
<path d="M190.75 134.70 L190.75 143.00" stroke="#1d1d1b" stroke-width="1.10"/>
<path d="M213.60 128.00 L213.60 134.70 L222.40 134.70 L222.40 128.00" stroke="#1d1d1b" stroke-width="1.20"/>
<text transform="translate(218.00 128.10) scale(0.80 1)" font-size="10.0" fill="#1d1d1b" text-anchor="middle" stroke="#1d1d1b" stroke-width="0.30">16</text>
<path d="M240.60 128.00 L240.60 134.70 L249.40 134.70 L249.40 128.00" stroke="#1d1d1b" stroke-width="1.20"/>
<text transform="translate(245.00 128.10) scale(0.80 1)" font-size="10.0" fill="#1d1d1b" text-anchor="middle" stroke="#1d1d1b" stroke-width="0.30">15</text>
<path d="M245.00 134.70 L245.00 143.00" stroke="#1d1d1b" stroke-width="1.10"/>
<path d="M267.60 128.00 L267.60 134.70 L276.40 134.70 L276.40 128.00" stroke="#1d1d1b" stroke-width="1.20"/>
<text transform="translate(272.00 128.10) scale(0.80 1)" font-size="10.0" fill="#1d1d1b" text-anchor="middle" stroke="#1d1d1b" stroke-width="0.30">14</text>
<path d="M272.00 134.70 L272.00 143.00" stroke="#1d1d1b" stroke-width="1.10"/>
<path d="M295.10 128.00 L295.10 134.70 L303.90 134.70 L303.90 128.00" stroke="#1d1d1b" stroke-width="1.20"/>
<text transform="translate(299.50 128.10) scale(0.80 1)" font-size="10.0" fill="#1d1d1b" text-anchor="middle" stroke="#1d1d1b" stroke-width="0.30">13</text>
<path d="M299.50 134.70 L299.50 143.00" stroke="#1d1d1b" stroke-width="1.10"/>
<path d="M322.10 128.00 L322.10 134.70 L330.90 134.70 L330.90 128.00" stroke="#1d1d1b" stroke-width="1.20"/>
<text transform="translate(326.50 128.10) scale(0.80 1)" font-size="10.0" fill="#1d1d1b" text-anchor="middle" stroke="#1d1d1b" stroke-width="0.30">12</text>
<path d="M348.85 128.00 L348.85 134.70 L357.65 134.70 L357.65 128.00" stroke="#1d1d1b" stroke-width="1.20"/>
<text transform="translate(353.25 128.10) scale(0.80 1)" font-size="10.0" fill="#1d1d1b" text-anchor="middle" stroke="#1d1d1b" stroke-width="0.30">11</text>
<path d="M353.25 134.70 L353.25 143.00" stroke="#1d1d1b" stroke-width="1.10"/>
<path d="M376.35 128.00 L376.35 134.70 L385.15 134.70 L385.15 128.00" stroke="#1d1d1b" stroke-width="1.20"/>
<text transform="translate(380.75 128.10) scale(0.80 1)" font-size="10.0" fill="#1d1d1b" text-anchor="middle" stroke="#1d1d1b" stroke-width="0.30">10</text>
<path d="M380.75 134.70 L380.75 143.00" stroke="#1d1d1b" stroke-width="1.10"/>
<path d="M403.60 128.00 L403.60 134.70 L412.40 134.70 L412.40 128.00" stroke="#1d1d1b" stroke-width="1.20"/>
<text transform="translate(408.00 128.10) scale(0.80 1)" font-size="10.0" fill="#1d1d1b" text-anchor="middle" stroke="#1d1d1b" stroke-width="0.30">9</text>
<path d="M408.00 134.70 L408.00 143.00" stroke="#1d1d1b" stroke-width="1.10"/>
<path d="M430.60 128.00 L430.60 134.70 L439.40 134.70 L439.40 128.00" stroke="#1d1d1b" stroke-width="1.20"/>
<text transform="translate(435.00 128.10) scale(0.80 1)" font-size="10.0" fill="#1d1d1b" text-anchor="middle" stroke="#1d1d1b" stroke-width="0.30">8</text>
<path d="M435.00 134.70 L435.00 143.00" stroke="#1d1d1b" stroke-width="1.10"/>
<path d="M457.60 128.00 L457.60 134.70 L466.40 134.70 L466.40 128.00" stroke="#1d1d1b" stroke-width="1.20"/>
<text transform="translate(462.00 128.10) scale(0.80 1)" font-size="10.0" fill="#1d1d1b" text-anchor="middle" stroke="#1d1d1b" stroke-width="0.30">7</text>
<path d="M462.00 134.70 L462.00 143.00" stroke="#1d1d1b" stroke-width="1.10"/>
<path d="M484.85 128.00 L484.85 134.70 L493.65 134.70 L493.65 128.00" stroke="#1d1d1b" stroke-width="1.20"/>
<text transform="translate(489.25 128.10) scale(0.80 1)" font-size="10.0" fill="#1d1d1b" text-anchor="middle" stroke="#1d1d1b" stroke-width="0.30">6</text>
<path d="M489.25 134.70 L489.25 143.00" stroke="#1d1d1b" stroke-width="1.10"/>
<path d="M512.10 128.00 L512.10 134.70 L520.90 134.70 L520.90 128.00" stroke="#1d1d1b" stroke-width="1.20"/>
<text transform="translate(516.50 128.10) scale(0.80 1)" font-size="10.0" fill="#1d1d1b" text-anchor="middle" stroke="#1d1d1b" stroke-width="0.30">5</text>
<path d="M539.35 128.00 L539.35 134.70 L548.15 134.70 L548.15 128.00" stroke="#1d1d1b" stroke-width="1.20"/>
<text transform="translate(543.75 128.10) scale(0.80 1)" font-size="10.0" fill="#1d1d1b" text-anchor="middle" stroke="#1d1d1b" stroke-width="0.30">4</text>
<path d="M543.75 134.70 L543.75 143.00" stroke="#1d1d1b" stroke-width="1.10"/>
<path d="M566.35 128.00 L566.35 134.70 L575.15 134.70 L575.15 128.00" stroke="#1d1d1b" stroke-width="1.20"/>
<text transform="translate(570.75 128.10) scale(0.80 1)" font-size="10.0" fill="#1d1d1b" text-anchor="middle" stroke="#1d1d1b" stroke-width="0.30">3</text>
<path d="M570.75 134.70 L570.75 143.00" stroke="#1d1d1b" stroke-width="1.10"/>
<path d="M593.35 128.00 L593.35 134.70 L602.15 134.70 L602.15 128.00" stroke="#1d1d1b" stroke-width="1.20"/>
<text transform="translate(597.75 128.10) scale(0.80 1)" font-size="10.0" fill="#1d1d1b" text-anchor="middle" stroke="#1d1d1b" stroke-width="0.30">2</text>
<path d="M597.75 134.70 L597.75 143.00" stroke="#1d1d1b" stroke-width="1.10"/>
<path d="M620.60 128.00 L620.60 134.70 L629.40 134.70 L629.40 128.00" stroke="#1d1d1b" stroke-width="1.20"/>
<text transform="translate(625.00 128.10) scale(0.80 1)" font-size="10.0" fill="#1d1d1b" text-anchor="middle" stroke="#1d1d1b" stroke-width="0.30">1</text>
<path d="M625.00 134.70 L625.00 143.00" stroke="#1d1d1b" stroke-width="1.10"/>
<path d="M516.50 134.70 L516.50 143.00" stroke="#1d1d1b" stroke-width="1.10"/>
<text transform="translate(131.50 130.20) scale(0.64 1)" font-size="20.0" fill="#2e3192" text-anchor="middle" stroke="#2e3192" stroke-width="0.32">1</text>
<path d="M327 153.4 A4.6 4.6 0 0 1 327 162.6 Z" style="fill:#fff" stroke="none"/>
<path d="M327.00 153.40 A4.60 4.60 0 0 1 327.00 162.60" stroke="#1d1d1b" stroke-width="1.70"/>
<text transform="translate(329.70 182.70) scale(0.64 1)" font-size="20.0" fill="#2e3192" text-anchor="middle" stroke="#2e3192" stroke-width="0.32">23</text>
<rect x="686.00" y="95.00" width="130.80" height="61.30" fill="#8dd6f7" stroke="#1c3040" stroke-width="1.6"/>
<text transform="translate(673.00 132.70) scale(0.64 1)" font-size="20.0" fill="#2e3192" text-anchor="middle" stroke="#2e3192" stroke-width="0.32">2</text>
<text transform="translate(693.00 151.74) scale(0.76 1)" font-size="10.4" fill="#1d1d1b" text-anchor="middle" stroke="#1d1d1b" stroke-width="0.30">15</text>
<path d="M692.50 156.30 L692.50 168.50" stroke="#1d1d1b" stroke-width="1.20"/>
<path d="M688.30 166.20 A4.20 4.20 0 0 0 696.70 166.20" stroke="#1d1d1b" stroke-width="1.70"/>
<text transform="translate(709.50 151.74) scale(0.76 1)" font-size="10.4" fill="#1d1d1b" text-anchor="middle" stroke="#1d1d1b" stroke-width="0.30">61</text>
<path d="M710.75 156.30 L710.75 168.50" stroke="#1d1d1b" stroke-width="1.20"/>
<path d="M706.55 166.20 A4.20 4.20 0 0 0 714.95 166.20" stroke="#1d1d1b" stroke-width="1.70"/>
<text transform="translate(728.00 151.74) scale(0.76 1)" font-size="10.4" fill="#1d1d1b" text-anchor="middle" stroke="#1d1d1b" stroke-width="0.30">SM</text>
<path d="M730.50 156.30 L730.50 168.50" stroke="#1d1d1b" stroke-width="1.20"/>
<path d="M726.30 166.20 A4.20 4.20 0 0 0 734.70 166.20" stroke="#1d1d1b" stroke-width="1.70"/>
<text transform="translate(746.50 151.74) scale(0.76 1)" font-size="10.4" fill="#1d1d1b" text-anchor="middle" stroke="#1d1d1b" stroke-width="0.30">31</text>
<path d="M748.75 156.30 L748.75 168.50" stroke="#1d1d1b" stroke-width="1.20"/>
<path d="M744.55 166.20 A4.20 4.20 0 0 0 752.95 166.20" stroke="#1d1d1b" stroke-width="1.70"/>
<text transform="translate(766.00 151.74) scale(0.76 1)" font-size="10.4" fill="#1d1d1b" text-anchor="middle" stroke="#1d1d1b" stroke-width="0.30">86</text>
<path d="M768.50 156.30 L768.50 168.50" stroke="#1d1d1b" stroke-width="1.20"/>
<path d="M764.30 166.20 A4.20 4.20 0 0 0 772.70 166.20" stroke="#1d1d1b" stroke-width="1.70"/>
<text transform="translate(788.75 151.74) scale(0.76 1)" font-size="10.4" fill="#1d1d1b" text-anchor="middle" stroke="#1d1d1b" stroke-width="0.30">86a</text>
<path d="M788.75 156.30 L788.75 168.50" stroke="#1d1d1b" stroke-width="1.20"/>
<path d="M784.55 166.20 A4.20 4.20 0 0 0 792.95 166.20" stroke="#1d1d1b" stroke-width="1.70"/>
<text transform="translate(809.50 151.74) scale(0.76 1)" font-size="10.4" fill="#1d1d1b" text-anchor="middle" stroke="#1d1d1b" stroke-width="0.30">MV</text>
<path d="M808.75 156.30 L808.75 168.50" stroke="#1d1d1b" stroke-width="1.20"/>
<path d="M804.55 166.20 A4.20 4.20 0 0 0 812.95 166.20" stroke="#1d1d1b" stroke-width="1.70"/>
<rect x="886.70" y="92.70" width="89.80" height="26.30" fill="#8dd6f7" stroke="#1c3040" stroke-width="1.6"/>
<path d="M892.70 106.60 A4.20 4.20 0 0 0 901.10 106.60" stroke="#1d1d1b" stroke-width="1.70"/>
<path d="M905.80 106.60 A4.20 4.20 0 0 0 914.20 106.60" stroke="#1d1d1b" stroke-width="1.70"/>
<path d="M910.00 111.50 L910.00 119.00" stroke="#1d1d1b" stroke-width="1.20"/>
<path d="M918.90 106.60 A4.20 4.20 0 0 0 927.30 106.60" stroke="#1d1d1b" stroke-width="1.70"/>
<path d="M923.10 111.50 L923.10 119.00" stroke="#1d1d1b" stroke-width="1.20"/>
<path d="M932.05 106.60 A4.20 4.20 0 0 0 940.45 106.60" stroke="#1d1d1b" stroke-width="1.70"/>
<path d="M936.25 111.50 L936.25 119.00" stroke="#1d1d1b" stroke-width="1.20"/>
<path d="M945.00 106.60 A4.20 4.20 0 0 0 953.40 106.60" stroke="#1d1d1b" stroke-width="1.70"/>
<path d="M949.20 111.50 L949.20 119.00" stroke="#1d1d1b" stroke-width="1.20"/>
<path d="M958.10 106.60 A4.20 4.20 0 0 0 966.50 106.60" stroke="#1d1d1b" stroke-width="1.70"/>
<path d="M962.30 111.50 L962.30 119.00" stroke="#1d1d1b" stroke-width="1.20"/>
<text transform="translate(896.30 87.20) scale(0.64 1)" font-size="20.0" fill="#2e3192" text-anchor="middle" stroke="#2e3192" stroke-width="0.32">3</text>
<text transform="translate(921.30 87.20) scale(0.64 1)" font-size="20.0" fill="#2e3192" text-anchor="middle" stroke="#2e3192" stroke-width="0.32">4</text>
<text transform="translate(949.50 87.20) scale(0.64 1)" font-size="20.0" fill="#2e3192" text-anchor="middle" stroke="#2e3192" stroke-width="0.32">5</text>
<path d="M900.00 87.50 L908.50 103.50" stroke="#1d1d1b" stroke-width="0.90"/>
<path d="M921.60 89.00 L923.00 102.00" stroke="#1d1d1b" stroke-width="0.90"/>
<text transform="translate(943.00 130.26) scale(0.70 1)" font-size="9.6" fill="#333333" text-anchor="middle" stroke="#333333" stroke-width="0.30">11</text>
<text transform="translate(956.40 130.26) scale(0.70 1)" font-size="9.6" fill="#333333" text-anchor="middle" stroke="#333333" stroke-width="0.30">15</text>
<text transform="translate(966.90 130.26) scale(0.70 1)" font-size="9.6" fill="#333333" text-anchor="middle" stroke="#333333" stroke-width="0.30">1</text>
<rect x="1041.80" y="93.80" width="35.00" height="41.20" fill="#8dd6f7" stroke="#1c3040" stroke-width="1.6"/>
<rect x="1086.00" y="93.80" width="35.30" height="41.20" fill="#8dd6f7" stroke="#1c3040" stroke-width="1.6"/>
<text transform="translate(1058.30 87.20) scale(0.64 1)" font-size="20.0" fill="#2e3192" text-anchor="middle" stroke="#2e3192" stroke-width="0.32">32</text>
<text transform="translate(1106.30 87.20) scale(0.64 1)" font-size="20.0" fill="#2e3192" text-anchor="middle" stroke="#2e3192" stroke-width="0.32">33</text>
<path d="M1048.00 135.00 L1048.00 149.50" stroke="#1d1d1b" stroke-width="1.20"/>
<path d="M1043.80 147.30 A4.20 4.20 0 0 0 1052.20 147.30" stroke="#1d1d1b" stroke-width="1.70"/>
<path d="M1069.00 135.00 L1069.00 149.50" stroke="#1d1d1b" stroke-width="1.20"/>
<path d="M1064.80 147.30 A4.20 4.20 0 0 0 1073.20 147.30" stroke="#1d1d1b" stroke-width="1.70"/>
<path d="M1092.75 135.00 L1092.75 149.50" stroke="#1d1d1b" stroke-width="1.20"/>
<path d="M1088.55 147.30 A4.20 4.20 0 0 0 1096.95 147.30" stroke="#1d1d1b" stroke-width="1.70"/>
<path d="M1113.75 135.00 L1113.75 149.50" stroke="#1d1d1b" stroke-width="1.20"/>
<path d="M1109.55 147.30 A4.20 4.20 0 0 0 1117.95 147.30" stroke="#1d1d1b" stroke-width="1.70"/>
<rect x="1158.70" y="240.60" width="50.60" height="56.40" fill="#8dd6f7" stroke="#1c3040" stroke-width="1.6"/>
<text transform="translate(1175.80 233.70) scale(0.64 1)" font-size="20.0" fill="#2e3192" text-anchor="middle" stroke="#2e3192" stroke-width="0.32">6</text>
<path d="M1147.30 254.30 L1158.70 254.30" stroke="#1d1d1b" stroke-width="1.20"/>
<path d="M1148.70 250.10 A4.20 4.20 0 0 0 1148.70 258.50" stroke="#1d1d1b" stroke-width="1.70"/>
<path d="M1147.30 270.00 L1158.70 270.00" stroke="#1d1d1b" stroke-width="1.20"/>
<path d="M1148.70 265.80 A4.20 4.20 0 0 0 1148.70 274.20" stroke="#1d1d1b" stroke-width="1.70"/>
<path d="M1147.30 286.30 L1158.70 286.30" stroke="#1d1d1b" stroke-width="1.20"/>
<path d="M1148.70 282.10 A4.20 4.20 0 0 0 1148.70 290.50" stroke="#1d1d1b" stroke-width="1.70"/>
<rect x="1158.70" y="308.70" width="50.60" height="83.00" fill="#8dd6f7" stroke="#1c3040" stroke-width="1.6"/>
<text transform="translate(1175.50 409.70) scale(0.64 1)" font-size="20.0" fill="#2e3192" text-anchor="middle" stroke="#2e3192" stroke-width="0.32">7</text>
<path d="M1147.30 322.70 L1158.70 322.70" stroke="#1d1d1b" stroke-width="1.20"/>
<path d="M1148.70 318.50 A4.20 4.20 0 0 0 1148.70 326.90" stroke="#1d1d1b" stroke-width="1.70"/>
<text transform="translate(1160.60 326.89) scale(0.72 1)" font-size="10.8" fill="#13334a" text-anchor="start" stroke="#13334a" stroke-width="0.30">22</text>
<path d="M1147.30 337.00 L1158.70 337.00" stroke="#1d1d1b" stroke-width="1.20"/>
<path d="M1148.70 332.80 A4.20 4.20 0 0 0 1148.70 341.20" stroke="#1d1d1b" stroke-width="1.70"/>
<text transform="translate(1160.60 341.19) scale(0.72 1)" font-size="10.8" fill="#13334a" text-anchor="start" stroke="#13334a" stroke-width="0.30">7</text>
<path d="M1147.30 355.00 L1158.70 355.00" stroke="#1d1d1b" stroke-width="1.20"/>
<path d="M1148.70 350.80 A4.20 4.20 0 0 0 1148.70 359.20" stroke="#1d1d1b" stroke-width="1.70"/>
<text transform="translate(1160.60 359.19) scale(0.72 1)" font-size="10.8" fill="#13334a" text-anchor="start" stroke="#13334a" stroke-width="0.30">9</text>
<path d="M1147.30 370.00 L1158.70 370.00" stroke="#1d1d1b" stroke-width="1.20"/>
<path d="M1148.70 365.80 A4.20 4.20 0 0 0 1148.70 374.20" stroke="#1d1d1b" stroke-width="1.70"/>
<text transform="translate(1160.60 374.19) scale(0.72 1)" font-size="10.8" fill="#13334a" text-anchor="start" stroke="#13334a" stroke-width="0.30">6</text>
<path d="M1147.30 383.30 L1158.70 383.30" stroke="#1d1d1b" stroke-width="1.20"/>
<path d="M1148.70 379.10 A4.20 4.20 0 0 0 1148.70 387.50" stroke="#1d1d1b" stroke-width="1.70"/>
<rect x="1161.30" y="428.00" width="47.00" height="58.30" fill="#8dd6f7" stroke="#1c3040" stroke-width="1.6"/>
<rect x="1161.30" y="494.30" width="47.00" height="58.20" fill="#8dd6f7" stroke="#1c3040" stroke-width="1.6"/>
<text transform="translate(1200.50 422.50) scale(0.64 1)" font-size="20.0" fill="#2e3192" text-anchor="middle" stroke="#2e3192" stroke-width="0.32">8</text>
<text transform="translate(1200.30 571.00) scale(0.64 1)" font-size="20.0" fill="#2e3192" text-anchor="middle" stroke="#2e3192" stroke-width="0.32">9</text>
<rect x="1162.00" y="593.00" width="46.30" height="77.80" fill="#8dd6f7" stroke="#1c3040" stroke-width="1.6"/>
<text transform="translate(1183.80 588.20) scale(0.64 1)" font-size="20.0" fill="#2e3192" text-anchor="middle" stroke="#2e3192" stroke-width="0.32">10</text>
<path d="M1155.00 604.30 L1162.00 604.30" stroke="#1d1d1b" stroke-width="1.30"/>
<path d="M1155.80 599.70 A4.60 4.60 0 0 0 1155.80 608.90" stroke="#1d1d1b" stroke-width="1.70"/>
<text transform="translate(1173.00 608.19) scale(0.72 1)" font-size="10.8" fill="#13334a" text-anchor="middle" stroke="#13334a" stroke-width="0.30">87</text>
<path d="M1155.00 618.80 L1162.00 618.80" stroke="#1d1d1b" stroke-width="1.30"/>
<path d="M1155.80 614.20 A4.60 4.60 0 0 0 1155.80 623.40" stroke="#1d1d1b" stroke-width="1.70"/>
<text transform="translate(1173.00 622.69) scale(0.72 1)" font-size="10.8" fill="#13334a" text-anchor="middle" stroke="#13334a" stroke-width="0.30">86</text>
<path d="M1155.00 635.00 L1162.00 635.00" stroke="#1d1d1b" stroke-width="1.30"/>
<path d="M1155.80 630.40 A4.60 4.60 0 0 0 1155.80 639.60" stroke="#1d1d1b" stroke-width="1.70"/>
<text transform="translate(1173.00 638.89) scale(0.72 1)" font-size="10.8" fill="#13334a" text-anchor="middle" stroke="#13334a" stroke-width="0.30">85</text>
<path d="M1155.00 651.80 L1162.00 651.80" stroke="#1d1d1b" stroke-width="1.30"/>
<path d="M1155.80 647.20 A4.60 4.60 0 0 0 1155.80 656.40" stroke="#1d1d1b" stroke-width="1.70"/>
<text transform="translate(1173.00 655.69) scale(0.72 1)" font-size="10.8" fill="#13334a" text-anchor="middle" stroke="#13334a" stroke-width="0.30">30</text>
<rect x="1162.00" y="710.50" width="46.30" height="95.00" fill="#8dd6f7" stroke="#1c3040" stroke-width="1.6"/>
<text transform="translate(1183.30 706.70) scale(0.64 1)" font-size="20.0" fill="#2e3192" text-anchor="middle" stroke="#2e3192" stroke-width="0.32">11</text>
<path d="M1155.00 721.80 L1162.00 721.80" stroke="#1d1d1b" stroke-width="1.30"/>
<path d="M1155.80 717.20 A4.60 4.60 0 0 0 1155.80 726.40" stroke="#1d1d1b" stroke-width="1.70"/>
<text transform="translate(1173.00 725.69) scale(0.72 1)" font-size="10.8" fill="#13334a" text-anchor="middle" stroke="#13334a" stroke-width="0.30">87</text>
<path d="M1155.00 737.50 L1162.00 737.50" stroke="#1d1d1b" stroke-width="1.30"/>
<path d="M1155.80 732.90 A4.60 4.60 0 0 0 1155.80 742.10" stroke="#1d1d1b" stroke-width="1.70"/>
<text transform="translate(1173.00 741.39) scale(0.72 1)" font-size="10.8" fill="#13334a" text-anchor="middle" stroke="#13334a" stroke-width="0.30">87</text>
<path d="M1155.00 753.00 L1162.00 753.00" stroke="#1d1d1b" stroke-width="1.30"/>
<path d="M1155.80 748.40 A4.60 4.60 0 0 0 1155.80 757.60" stroke="#1d1d1b" stroke-width="1.70"/>
<text transform="translate(1173.00 756.89) scale(0.72 1)" font-size="10.8" fill="#13334a" text-anchor="middle" stroke="#13334a" stroke-width="0.30">86</text>
<path d="M1155.00 771.30 L1162.00 771.30" stroke="#1d1d1b" stroke-width="1.30"/>
<path d="M1155.80 766.70 A4.60 4.60 0 0 0 1155.80 775.90" stroke="#1d1d1b" stroke-width="1.70"/>
<text transform="translate(1173.00 775.19) scale(0.72 1)" font-size="10.8" fill="#13334a" text-anchor="middle" stroke="#13334a" stroke-width="0.30">85</text>
<path d="M1155.00 795.50 L1162.00 795.50" stroke="#1d1d1b" stroke-width="1.30"/>
<path d="M1155.80 790.90 A4.60 4.60 0 0 0 1155.80 800.10" stroke="#1d1d1b" stroke-width="1.70"/>
<text transform="translate(1173.00 796.89) scale(0.72 1)" font-size="10.8" fill="#13334a" text-anchor="middle" stroke="#13334a" stroke-width="0.30">30</text>
<rect x="727.00" y="425.40" width="57.20" height="57.30" fill="#8dd6f7" stroke="#1c3040" stroke-width="1.6"/>
<path d="M727.00 435.00 L734.50 435.00 L734.50 473.70" stroke="#15242b" stroke-width="1.25"/>
<path d="M784.20 435.00 L776.40 435.00 L776.40 473.70" stroke="#15242b" stroke-width="1.25"/>
<path d="M727.00 441.20 L784.20 441.20" stroke="#15242b" stroke-width="1.25"/>
<path d="M727.00 473.70 L784.20 473.70" stroke="#15242b" stroke-width="1.25"/>
<path d="M727.00 468.00 L742.40 468.00 L742.40 456.40 L768.00 456.40 L768.00 468.00 L784.20 468.00" stroke="#15242b" stroke-width="1.25"/>
<path d="M759.80 435.00 L755.40 435.00 L755.40 446.50 L759.80 446.50" stroke="#15242b" stroke-width="1.25"/>
<path d="M759.80 450.70 L755.40 450.70 L755.40 461.90 L759.80 461.90" stroke="#15242b" stroke-width="1.25"/>
<path d="M759.80 468.00 L755.40 468.00 L755.40 479.30 L759.80 479.30" stroke="#15242b" stroke-width="1.25"/>
<circle cx="734.50" cy="473.70" r="1.60" fill="#1d1d1b" stroke="none"/>
<circle cx="776.40" cy="473.70" r="1.60" fill="#1d1d1b" stroke="none"/>
<rect x="727.00" y="488.30" width="57.20" height="57.30" fill="#8dd6f7" stroke="#1c3040" stroke-width="1.6"/>
<path d="M727.00 497.90 L734.50 497.90 L734.50 536.60" stroke="#15242b" stroke-width="1.25"/>
<path d="M784.20 497.90 L776.40 497.90 L776.40 536.60" stroke="#15242b" stroke-width="1.25"/>
<path d="M727.00 504.10 L784.20 504.10" stroke="#15242b" stroke-width="1.25"/>
<path d="M727.00 536.60 L784.20 536.60" stroke="#15242b" stroke-width="1.25"/>
<path d="M727.00 530.90 L742.40 530.90 L742.40 519.30 L768.00 519.30 L768.00 530.90 L784.20 530.90" stroke="#15242b" stroke-width="1.25"/>
<path d="M759.80 497.90 L755.40 497.90 L755.40 509.40 L759.80 509.40" stroke="#15242b" stroke-width="1.25"/>
<path d="M759.80 513.60 L755.40 513.60 L755.40 524.80 L759.80 524.80" stroke="#15242b" stroke-width="1.25"/>
<path d="M759.80 530.90 L755.40 530.90 L755.40 542.20 L759.80 542.20" stroke="#15242b" stroke-width="1.25"/>
<circle cx="734.50" cy="536.60" r="1.60" fill="#1d1d1b" stroke="none"/>
<circle cx="776.40" cy="536.60" r="1.60" fill="#1d1d1b" stroke="none"/>
<path d="M27.00 279.25 L41.00 279.25" stroke="#1d1d1b" stroke-width="1.30"/>
<path d="M39.30 274.45 A4.80 4.80 0 0 1 39.30 284.05" stroke="#1d1d1b" stroke-width="1.70"/>
<path d="M27.00 405.75 L41.00 405.75" stroke="#1d1d1b" stroke-width="1.30"/>
<path d="M39.30 400.95 A4.80 4.80 0 0 1 39.30 410.55" stroke="#1d1d1b" stroke-width="1.70"/>
<rect x="29.70" y="486.30" width="30.70" height="31.20" fill="#8dd6f7" stroke="#1c3040" stroke-width="1.6"/>
<text transform="translate(16.00 509.80) scale(0.64 1)" font-size="20.0" fill="#2e3192" text-anchor="middle" stroke="#2e3192" stroke-width="0.32">24</text>
<path d="M60.40 493.00 L71.50 493.00" stroke="#1d1d1b" stroke-width="1.40"/>
<path d="M69.60 488.20 A4.80 4.80 0 0 1 69.60 497.80" stroke="#1d1d1b" stroke-width="1.70"/>
<path d="M60.40 510.30 L71.50 510.30" stroke="#1d1d1b" stroke-width="1.40"/>
<path d="M69.60 505.50 A4.80 4.80 0 0 1 69.60 515.10" stroke="#1d1d1b" stroke-width="1.70"/>
<rect x="29.70" y="532.60" width="30.70" height="31.20" fill="#8dd6f7" stroke="#1c3040" stroke-width="1.6"/>
<text transform="translate(16.00 556.10) scale(0.64 1)" font-size="20.0" fill="#2e3192" text-anchor="middle" stroke="#2e3192" stroke-width="0.32">25</text>
<path d="M60.40 539.60 L71.50 539.60" stroke="#1d1d1b" stroke-width="1.40"/>
<path d="M69.60 534.80 A4.80 4.80 0 0 1 69.60 544.40" stroke="#1d1d1b" stroke-width="1.70"/>
<path d="M60.40 557.30 L71.50 557.30" stroke="#1d1d1b" stroke-width="1.40"/>
<path d="M69.60 552.50 A4.80 4.80 0 0 1 69.60 562.10" stroke="#1d1d1b" stroke-width="1.70"/>
<rect x="29.70" y="570.80" width="30.70" height="31.20" fill="#8dd6f7" stroke="#1c3040" stroke-width="1.6"/>
<text transform="translate(16.00 594.30) scale(0.64 1)" font-size="20.0" fill="#2e3192" text-anchor="middle" stroke="#2e3192" stroke-width="0.32">25</text>
<path d="M60.40 577.30 L71.50 577.30" stroke="#1d1d1b" stroke-width="1.40"/>
<path d="M69.60 572.50 A4.80 4.80 0 0 1 69.60 582.10" stroke="#1d1d1b" stroke-width="1.70"/>
<path d="M60.40 595.40 L71.50 595.40" stroke="#1d1d1b" stroke-width="1.40"/>
<path d="M69.60 590.60 A4.80 4.80 0 0 1 69.60 600.20" stroke="#1d1d1b" stroke-width="1.70"/>
<rect x="29.70" y="609.10" width="30.70" height="31.20" fill="#8dd6f7" stroke="#1c3040" stroke-width="1.6"/>
<text transform="translate(16.00 632.60) scale(0.64 1)" font-size="20.0" fill="#2e3192" text-anchor="middle" stroke="#2e3192" stroke-width="0.32">25</text>
<path d="M60.40 616.50 L71.50 616.50" stroke="#1d1d1b" stroke-width="1.40"/>
<path d="M69.60 611.70 A4.80 4.80 0 0 1 69.60 621.30" stroke="#1d1d1b" stroke-width="1.70"/>
<path d="M60.40 632.60 L71.50 632.60" stroke="#1d1d1b" stroke-width="1.40"/>
<path d="M69.60 627.80 A4.80 4.80 0 0 1 69.60 637.40" stroke="#1d1d1b" stroke-width="1.70"/>
<rect x="29.70" y="647.30" width="30.70" height="31.20" fill="#8dd6f7" stroke="#1c3040" stroke-width="1.6"/>
<text transform="translate(16.00 670.80) scale(0.64 1)" font-size="20.0" fill="#2e3192" text-anchor="middle" stroke="#2e3192" stroke-width="0.32">25</text>
<path d="M60.40 654.00 L71.50 654.00" stroke="#1d1d1b" stroke-width="1.40"/>
<path d="M69.60 649.20 A4.80 4.80 0 0 1 69.60 658.80" stroke="#1d1d1b" stroke-width="1.70"/>
<path d="M60.40 671.70 L71.50 671.70" stroke="#1d1d1b" stroke-width="1.40"/>
<path d="M69.60 666.90 A4.80 4.80 0 0 1 69.60 676.50" stroke="#1d1d1b" stroke-width="1.70"/>
<rect x="29.70" y="685.50" width="30.70" height="31.20" fill="#8dd6f7" stroke="#1c3040" stroke-width="1.6"/>
<text transform="translate(16.00 709.00) scale(0.64 1)" font-size="20.0" fill="#2e3192" text-anchor="middle" stroke="#2e3192" stroke-width="0.32">25</text>
<path d="M60.40 692.10 L71.50 692.10" stroke="#1d1d1b" stroke-width="1.40"/>
<path d="M69.60 687.30 A4.80 4.80 0 0 1 69.60 696.90" stroke="#1d1d1b" stroke-width="1.70"/>
<path d="M60.40 709.20 L71.50 709.20" stroke="#1d1d1b" stroke-width="1.40"/>
<path d="M69.60 704.40 A4.80 4.80 0 0 1 69.60 714.00" stroke="#1d1d1b" stroke-width="1.70"/>
<rect x="29.70" y="723.80" width="30.70" height="31.20" fill="#8dd6f7" stroke="#1c3040" stroke-width="1.6"/>
<text transform="translate(16.00 747.30) scale(0.64 1)" font-size="20.0" fill="#2e3192" text-anchor="middle" stroke="#2e3192" stroke-width="0.32">25</text>
<path d="M60.40 730.30 L71.50 730.30" stroke="#1d1d1b" stroke-width="1.40"/>
<path d="M69.60 725.50 A4.80 4.80 0 0 1 69.60 735.10" stroke="#1d1d1b" stroke-width="1.70"/>
<path d="M60.40 747.60 L71.50 747.60" stroke="#1d1d1b" stroke-width="1.40"/>
<path d="M69.60 742.80 A4.80 4.80 0 0 1 69.60 752.40" stroke="#1d1d1b" stroke-width="1.70"/>
<rect x="29.70" y="778.80" width="30.70" height="31.20" fill="#8dd6f7" stroke="#1c3040" stroke-width="1.6"/>
<text transform="translate(16.00 802.30) scale(0.64 1)" font-size="20.0" fill="#2e3192" text-anchor="middle" stroke="#2e3192" stroke-width="0.32">26</text>
<path d="M60.40 785.90 L71.50 785.90" stroke="#1d1d1b" stroke-width="1.40"/>
<path d="M69.60 781.10 A4.80 4.80 0 0 1 69.60 790.70" stroke="#1d1d1b" stroke-width="1.70"/>
<path d="M60.40 803.40 L71.50 803.40" stroke="#1d1d1b" stroke-width="1.40"/>
<path d="M69.60 798.60 A4.80 4.80 0 0 1 69.60 808.20" stroke="#1d1d1b" stroke-width="1.70"/>
<rect x="50.80" y="840.50" width="43.50" height="59.00" fill="#8dd6f7" stroke="#1c3040" stroke-width="1.6"/>
<text transform="translate(38.80 882.20) scale(0.64 1)" font-size="20.0" fill="#2e3192" text-anchor="middle" stroke="#2e3192" stroke-width="0.32">19</text>
<path d="M56.75 899.50 L56.75 912.00" stroke="#1d1d1b" stroke-width="1.20"/>
<path d="M52.55 909.80 A4.20 4.20 0 0 0 60.95 909.80" stroke="#1d1d1b" stroke-width="1.70"/>
<path d="M71.75 899.50 L71.75 912.00" stroke="#1d1d1b" stroke-width="1.20"/>
<path d="M67.55 909.80 A4.20 4.20 0 0 0 75.95 909.80" stroke="#1d1d1b" stroke-width="1.70"/>
<path d="M87.00 899.50 L87.00 912.00" stroke="#1d1d1b" stroke-width="1.20"/>
<path d="M82.80 909.80 A4.20 4.20 0 0 0 91.20 909.80" stroke="#1d1d1b" stroke-width="1.70"/>
<rect x="221.30" y="840.00" width="57.50" height="80.00" fill="#8dd6f7" stroke="#1c3040" stroke-width="1.6"/>
<text transform="translate(207.50 884.20) scale(0.64 1)" font-size="20.0" fill="#2e3192" text-anchor="middle" stroke="#2e3192" stroke-width="0.32">20</text>
<text transform="translate(232.00 916.17) scale(0.76 1)" font-size="10.2" fill="#1d1d1b" text-anchor="middle" stroke="#1d1d1b" stroke-width="0.30">15a</text>
<text transform="translate(248.80 916.17) scale(0.76 1)" font-size="10.2" fill="#1d1d1b" text-anchor="middle" stroke="#1d1d1b" stroke-width="0.30">30</text>
<text transform="translate(263.00 916.17) scale(0.76 1)" font-size="10.2" fill="#1d1d1b" text-anchor="middle" stroke="#1d1d1b" stroke-width="0.30">50</text>
<path d="M230.50 920.00 L230.50 929.00" stroke="#1d1d1b" stroke-width="1.10"/>
<path d="M247.00 920.00 L247.00 932.00" stroke="#1d1d1b" stroke-width="1.20"/>
<path d="M242.80 929.80 A4.20 4.20 0 0 0 251.20 929.80" stroke="#1d1d1b" stroke-width="1.70"/>
<path d="M262.00 920.00 L262.00 932.00" stroke="#1d1d1b" stroke-width="1.20"/>
<path d="M257.80 929.80 A4.20 4.20 0 0 0 266.20 929.80" stroke="#1d1d1b" stroke-width="1.70"/>
<rect x="358.30" y="840.00" width="91.00" height="80.00" fill="#8dd6f7" stroke="#1c3040" stroke-width="1.6"/>
<text transform="translate(460.00 884.20) scale(0.64 1)" font-size="20.0" fill="#2e3192" text-anchor="middle" stroke="#2e3192" stroke-width="0.32">21</text>
<text transform="translate(373.30 914.17) scale(0.78 1)" font-size="10.2" fill="#1d1d1b" text-anchor="middle" stroke="#1d1d1b" stroke-width="0.30">B+</text>
<text transform="translate(433.80 914.17) scale(0.78 1)" font-size="10.2" fill="#1d1d1b" text-anchor="middle" stroke="#1d1d1b" stroke-width="0.30">D+</text>
<path d="M373.00 920.00 L373.00 932.00" stroke="#1d1d1b" stroke-width="1.20"/>
<path d="M368.80 929.80 A4.20 4.20 0 0 0 377.20 929.80" stroke="#1d1d1b" stroke-width="1.70"/>
<path d="M433.00 920.00 L433.00 932.00" stroke="#1d1d1b" stroke-width="1.20"/>
<path d="M428.80 929.80 A4.20 4.20 0 0 0 437.20 929.80" stroke="#1d1d1b" stroke-width="1.70"/>
<rect x="982.50" y="901.30" width="35.50" height="25.00" fill="#8dd6f7" stroke="#1c3040" stroke-width="1.6"/>
<text transform="translate(1001.40 896.70) scale(0.64 1)" font-size="20.0" fill="#2e3192" text-anchor="middle" stroke="#2e3192" stroke-width="0.32">22</text>
<rect x="990.7" y="910" width="17.4" height="9.6" fill="#1d1d1b" stroke="none"/>
<path d="M990.70 906.30 L1008.20 906.30" stroke="#1d1d1b" stroke-width="1.30"/>
<path d="M995.00 919.60 L995.00 923.00 L1003.00 923.00 L1003.00 926.30" stroke="#1d1d1b" stroke-width="1.00"/>
<path d="M1008.50 919.00 L1008.50 926.30" stroke="#1d1d1b" stroke-width="1.00"/>
<rect x="1073.00" y="1083.00" width="39.00" height="69.00" fill="#8dd6f7" stroke="#1c3040" stroke-width="1.6"/>
<rect x="1165.50" y="1083.00" width="39.00" height="69.00" fill="#8dd6f7" stroke="#1c3040" stroke-width="1.6"/>
<text transform="translate(1055.80 1124.70) scale(0.64 1)" font-size="20.0" fill="#2e3192" text-anchor="middle" stroke="#2e3192" stroke-width="0.32">13</text>
<text transform="translate(1150.50 1124.70) scale(0.64 1)" font-size="20.0" fill="#2e3192" text-anchor="middle" stroke="#2e3192" stroke-width="0.32">12</text>
<text transform="translate(1101.80 1095.96) scale(0.76 1)" font-size="9.6" fill="#1d1d1b" text-anchor="middle" stroke="#1d1d1b" stroke-width="0.30">FT</text>
<path d="M1080.00 1083.00 L1080.00 1071.50" stroke="#1d1d1b" stroke-width="1.20"/>
<path d="M1075.80 1073.60 A4.20 4.20 0 0 1 1084.20 1073.60" stroke="#1d1d1b" stroke-width="1.70"/>
<path d="M1103.75 1083.00 L1103.75 1071.50" stroke="#1d1d1b" stroke-width="1.20"/>
<path d="M1099.55 1073.60 A4.20 4.20 0 0 1 1107.95 1073.60" stroke="#1d1d1b" stroke-width="1.70"/>
<path d="M1172.50 1083.00 L1172.50 1071.50" stroke="#1d1d1b" stroke-width="1.20"/>
<path d="M1168.30 1073.60 A4.20 4.20 0 0 1 1176.70 1073.60" stroke="#1d1d1b" stroke-width="1.70"/>
<path d="M1196.25 1083.00 L1196.25 1071.50" stroke="#1d1d1b" stroke-width="1.20"/>
<path d="M1192.05 1073.60 A4.20 4.20 0 0 1 1200.45 1073.60" stroke="#1d1d1b" stroke-width="1.70"/>
<rect x="812.50" y="1100.70" width="205.50" height="51.80" fill="#8dd6f7" stroke="#1c3040" stroke-width="1.6"/>
<text transform="translate(798.30 1133.50) scale(0.64 1)" font-size="20.0" fill="#2e3192" text-anchor="middle" stroke="#2e3192" stroke-width="0.32">14</text>
<path d="M828.60 1120.60 A4.40 4.40 0 0 1 837.40 1120.60" stroke="#1d1d1b" stroke-width="1.70"/>
<text transform="translate(833.00 1129.76) scale(0.80 1)" font-size="9.6" fill="#1d1d1b" text-anchor="middle" stroke="#1d1d1b" stroke-width="0.30">14</text>
<path d="M833.00 1100.70 L833.00 1116.20" stroke="#1d1d1b" stroke-width="1.40"/>
<path d="M854.35 1120.60 A4.40 4.40 0 0 1 863.15 1120.60" stroke="#1d1d1b" stroke-width="1.70"/>
<text transform="translate(858.75 1129.76) scale(0.80 1)" font-size="9.6" fill="#1d1d1b" text-anchor="middle" stroke="#1d1d1b" stroke-width="0.30">12</text>
<path d="M858.75 1100.70 L858.75 1116.20" stroke="#1d1d1b" stroke-width="1.40"/>
<path d="M879.85 1120.60 A4.40 4.40 0 0 1 888.65 1120.60" stroke="#1d1d1b" stroke-width="1.70"/>
<text transform="translate(884.25 1129.76) scale(0.80 1)" font-size="9.6" fill="#1d1d1b" text-anchor="middle" stroke="#1d1d1b" stroke-width="0.30">11</text>
<path d="M884.25 1100.70 L884.25 1116.20" stroke="#1d1d1b" stroke-width="1.40"/>
<path d="M909.35 1120.60 A4.40 4.40 0 0 1 918.15 1120.60" stroke="#1d1d1b" stroke-width="1.70"/>
<text transform="translate(913.75 1129.76) scale(0.80 1)" font-size="9.6" fill="#1d1d1b" text-anchor="middle" stroke="#1d1d1b" stroke-width="0.30">5</text>
<path d="M935.60 1120.60 A4.40 4.40 0 0 1 944.40 1120.60" stroke="#1d1d1b" stroke-width="1.70"/>
<text transform="translate(940.00 1129.76) scale(0.80 1)" font-size="9.6" fill="#1d1d1b" text-anchor="middle" stroke="#1d1d1b" stroke-width="0.30">6</text>
<path d="M963.85 1120.60 A4.40 4.40 0 0 1 972.65 1120.60" stroke="#1d1d1b" stroke-width="1.70"/>
<text transform="translate(968.25 1129.76) scale(0.80 1)" font-size="9.6" fill="#1d1d1b" text-anchor="middle" stroke="#1d1d1b" stroke-width="0.30">7</text>
<path d="M968.25 1100.70 L968.25 1116.20" stroke="#1d1d1b" stroke-width="1.40"/>
<path d="M990.10 1120.60 A4.40 4.40 0 0 1 998.90 1120.60" stroke="#1d1d1b" stroke-width="1.70"/>
<text transform="translate(994.50 1129.76) scale(0.80 1)" font-size="9.6" fill="#1d1d1b" text-anchor="middle" stroke="#1d1d1b" stroke-width="0.30">8</text>
<path d="M995.00 1100.70 L994.50 1116.20" stroke="#1d1d1b" stroke-width="1.40"/>
<path d="M815.10 1139.40 A4.40 4.40 0 0 1 823.90 1139.40" stroke="#1d1d1b" stroke-width="1.70"/>
<text transform="translate(819.50 1148.76) scale(0.80 1)" font-size="9.6" fill="#1d1d1b" text-anchor="middle" stroke="#1d1d1b" stroke-width="0.30">13</text>
<path d="M819.50 1100.70 L819.50 1135.00" stroke="#1d1d1b" stroke-width="1.40"/>
<path d="M841.85 1139.40 A4.40 4.40 0 0 1 850.65 1139.40" stroke="#1d1d1b" stroke-width="1.70"/>
<text transform="translate(846.25 1148.76) scale(0.80 1)" font-size="9.6" fill="#1d1d1b" text-anchor="middle" stroke="#1d1d1b" stroke-width="0.30">15</text>
<path d="M846.25 1100.70 L846.25 1135.00" stroke="#1d1d1b" stroke-width="1.40"/>
<path d="M868.85 1139.40 A4.40 4.40 0 0 1 877.65 1139.40" stroke="#1d1d1b" stroke-width="1.70"/>
<text transform="translate(873.25 1148.76) scale(0.80 1)" font-size="9.6" fill="#1d1d1b" text-anchor="middle" stroke="#1d1d1b" stroke-width="0.30">4</text>
<path d="M873.25 1100.70 L873.25 1135.00" stroke="#1d1d1b" stroke-width="1.40"/>
<path d="M896.85 1139.40 A4.40 4.40 0 0 1 905.65 1139.40" stroke="#1d1d1b" stroke-width="1.70"/>
<text transform="translate(901.25 1148.76) scale(0.80 1)" font-size="9.6" fill="#1d1d1b" text-anchor="middle" stroke="#1d1d1b" stroke-width="0.30">1</text>
<path d="M901.25 1100.70 L901.25 1135.00" stroke="#1d1d1b" stroke-width="1.40"/>
<path d="M922.35 1139.40 A4.40 4.40 0 0 1 931.15 1139.40" stroke="#1d1d1b" stroke-width="1.70"/>
<text transform="translate(926.75 1148.76) scale(0.80 1)" font-size="9.6" fill="#1d1d1b" text-anchor="middle" stroke="#1d1d1b" stroke-width="0.30">2</text>
<path d="M948.60 1139.40 A4.40 4.40 0 0 1 957.40 1139.40" stroke="#1d1d1b" stroke-width="1.70"/>
<text transform="translate(953.00 1148.76) scale(0.80 1)" font-size="9.6" fill="#1d1d1b" text-anchor="middle" stroke="#1d1d1b" stroke-width="0.30">3</text>
<path d="M977.10 1139.40 A4.40 4.40 0 0 1 985.90 1139.40" stroke="#1d1d1b" stroke-width="1.70"/>
<text transform="translate(981.50 1148.76) scale(0.80 1)" font-size="9.6" fill="#1d1d1b" text-anchor="middle" stroke="#1d1d1b" stroke-width="0.30">9</text>
<path d="M981.50 1100.70 L981.50 1135.00" stroke="#1d1d1b" stroke-width="1.40"/>
<path d="M1004.35 1139.40 A4.40 4.40 0 0 1 1013.15 1139.40" stroke="#1d1d1b" stroke-width="1.70"/>
<text transform="translate(1008.75 1148.76) scale(0.80 1)" font-size="9.6" fill="#1d1d1b" text-anchor="middle" stroke="#1d1d1b" stroke-width="0.30">10</text>
<path d="M1008.75 1100.70 L1008.75 1135.00" stroke="#1d1d1b" stroke-width="1.40"/>
<path d="M893.30 1100.70 L893.30 1129.00 L900.00 1134.20" stroke="#1d1d1b" stroke-width="1.40"/>
<rect x="423.00" y="1101.70" width="238.80" height="46.30" fill="#8dd6f7" stroke="#1c3040" stroke-width="1.6"/>
<text transform="translate(406.80 1133.50) scale(0.64 1)" font-size="20.0" fill="#2e3192" text-anchor="middle" stroke="#2e3192" stroke-width="0.32">15</text>
<path d="M441.20 1114.60 A4.30 4.30 0 0 1 449.80 1114.60" stroke="#1d1d1b" stroke-width="1.70"/>
<text transform="translate(445.50 1124.46) scale(0.80 1)" font-size="9.6" fill="#1d1d1b" text-anchor="middle" stroke="#1d1d1b" stroke-width="0.30">16</text>
<path d="M468.70 1114.60 A4.30 4.30 0 0 1 477.30 1114.60" stroke="#1d1d1b" stroke-width="1.70"/>
<text transform="translate(473.00 1124.46) scale(0.80 1)" font-size="9.6" fill="#1d1d1b" text-anchor="middle" stroke="#1d1d1b" stroke-width="0.30">9</text>
<path d="M473.00 1101.70 L473.00 1110.30" stroke="#1d1d1b" stroke-width="1.40"/>
<path d="M495.20 1114.60 A4.30 4.30 0 0 1 503.80 1114.60" stroke="#1d1d1b" stroke-width="1.70"/>
<text transform="translate(499.50 1124.46) scale(0.80 1)" font-size="9.6" fill="#1d1d1b" text-anchor="middle" stroke="#1d1d1b" stroke-width="0.30">14</text>
<path d="M499.50 1101.70 L499.50 1110.30" stroke="#1d1d1b" stroke-width="1.40"/>
<path d="M522.70 1114.60 A4.30 4.30 0 0 1 531.30 1114.60" stroke="#1d1d1b" stroke-width="1.70"/>
<text transform="translate(527.00 1124.46) scale(0.80 1)" font-size="9.6" fill="#1d1d1b" text-anchor="middle" stroke="#1d1d1b" stroke-width="0.30">4</text>
<path d="M527.00 1101.70 L527.00 1110.30" stroke="#1d1d1b" stroke-width="1.40"/>
<path d="M550.20 1114.60 A4.30 4.30 0 0 1 558.80 1114.60" stroke="#1d1d1b" stroke-width="1.70"/>
<text transform="translate(554.50 1124.46) scale(0.80 1)" font-size="9.6" fill="#1d1d1b" text-anchor="middle" stroke="#1d1d1b" stroke-width="0.30">5</text>
<path d="M578.70 1114.60 A4.30 4.30 0 0 1 587.30 1114.60" stroke="#1d1d1b" stroke-width="1.70"/>
<text transform="translate(583.00 1124.46) scale(0.80 1)" font-size="9.6" fill="#1d1d1b" text-anchor="middle" stroke="#1d1d1b" stroke-width="0.30">15</text>
<path d="M583.00 1101.70 L583.00 1110.30" stroke="#1d1d1b" stroke-width="1.40"/>
<path d="M604.95 1114.60 A4.30 4.30 0 0 1 613.55 1114.60" stroke="#1d1d1b" stroke-width="1.70"/>
<text transform="translate(609.25 1124.46) scale(0.80 1)" font-size="9.6" fill="#1d1d1b" text-anchor="middle" stroke="#1d1d1b" stroke-width="0.30">2</text>
<path d="M609.25 1101.70 L609.25 1110.30" stroke="#1d1d1b" stroke-width="1.40"/>
<path d="M632.45 1114.60 A4.30 4.30 0 0 1 641.05 1114.60" stroke="#1d1d1b" stroke-width="1.70"/>
<text transform="translate(636.75 1124.46) scale(0.80 1)" font-size="9.6" fill="#1d1d1b" text-anchor="middle" stroke="#1d1d1b" stroke-width="0.30">8</text>
<path d="M636.75 1101.70 L636.75 1110.30" stroke="#1d1d1b" stroke-width="1.40"/>
<path d="M428.70 1126.20 A4.30 4.30 0 0 1 437.30 1126.20" stroke="#1d1d1b" stroke-width="1.70"/>
<text transform="translate(433.00 1136.06) scale(0.80 1)" font-size="9.6" fill="#1d1d1b" text-anchor="middle" stroke="#1d1d1b" stroke-width="0.30">17</text>
<path d="M456.95 1126.20 A4.30 4.30 0 0 1 465.55 1126.20" stroke="#1d1d1b" stroke-width="1.70"/>
<text transform="translate(461.25 1136.06) scale(0.80 1)" font-size="9.6" fill="#1d1d1b" text-anchor="middle" stroke="#1d1d1b" stroke-width="0.30">10</text>
<path d="M461.25 1101.70 L461.25 1121.90" stroke="#1d1d1b" stroke-width="1.40"/>
<path d="M481.95 1126.20 A4.30 4.30 0 0 1 490.55 1126.20" stroke="#1d1d1b" stroke-width="1.70"/>
<text transform="translate(486.25 1136.06) scale(0.80 1)" font-size="9.6" fill="#1d1d1b" text-anchor="middle" stroke="#1d1d1b" stroke-width="0.30">11</text>
<path d="M486.25 1101.70 L486.25 1121.90" stroke="#1d1d1b" stroke-width="1.40"/>
<path d="M509.45 1126.20 A4.30 4.30 0 0 1 518.05 1126.20" stroke="#1d1d1b" stroke-width="1.70"/>
<text transform="translate(513.75 1136.06) scale(0.80 1)" font-size="9.6" fill="#1d1d1b" text-anchor="middle" stroke="#1d1d1b" stroke-width="0.30">12</text>
<path d="M513.75 1101.70 L513.75 1121.90" stroke="#1d1d1b" stroke-width="1.40"/>
<path d="M536.95 1126.20 A4.30 4.30 0 0 1 545.55 1126.20" stroke="#1d1d1b" stroke-width="1.70"/>
<text transform="translate(541.25 1136.06) scale(0.80 1)" font-size="9.6" fill="#1d1d1b" text-anchor="middle" stroke="#1d1d1b" stroke-width="0.30">6</text>
<path d="M541.25 1101.70 L541.25 1121.90" stroke="#1d1d1b" stroke-width="1.40"/>
<path d="M564.45 1126.20 A4.30 4.30 0 0 1 573.05 1126.20" stroke="#1d1d1b" stroke-width="1.70"/>
<text transform="translate(568.75 1136.06) scale(0.80 1)" font-size="9.6" fill="#1d1d1b" text-anchor="middle" stroke="#1d1d1b" stroke-width="0.30">7</text>
<path d="M568.75 1101.70 L568.75 1121.90" stroke="#1d1d1b" stroke-width="1.40"/>
<path d="M591.45 1126.20 A4.30 4.30 0 0 1 600.05 1126.20" stroke="#1d1d1b" stroke-width="1.70"/>
<text transform="translate(595.75 1136.06) scale(0.80 1)" font-size="9.6" fill="#1d1d1b" text-anchor="middle" stroke="#1d1d1b" stroke-width="0.30">13</text>
<path d="M618.70 1126.20 A4.30 4.30 0 0 1 627.30 1126.20" stroke="#1d1d1b" stroke-width="1.70"/>
<text transform="translate(623.00 1136.06) scale(0.80 1)" font-size="9.6" fill="#1d1d1b" text-anchor="middle" stroke="#1d1d1b" stroke-width="0.30">3</text>
<path d="M623.00 1101.70 L623.00 1121.90" stroke="#1d1d1b" stroke-width="1.40"/>
<path d="M646.45 1126.20 A4.30 4.30 0 0 1 655.05 1126.20" stroke="#1d1d1b" stroke-width="1.70"/>
<text transform="translate(650.75 1136.06) scale(0.80 1)" font-size="9.6" fill="#1d1d1b" text-anchor="middle" stroke="#1d1d1b" stroke-width="0.30">1</text>
<path d="M650.75 1101.70 L650.75 1121.90" stroke="#1d1d1b" stroke-width="1.40"/>
<text transform="translate(514.50 1145.60) scale(0.76 1)" font-size="10.0" fill="#1d1d1b" text-anchor="middle" stroke="#1d1d1b" stroke-width="0.30">15u</text>
<text transform="translate(541.25 1145.60) scale(0.76 1)" font-size="10.0" fill="#1d1d1b" text-anchor="middle" stroke="#1d1d1b" stroke-width="0.30">15</text>
<text transform="translate(636.75 1145.60) scale(0.76 1)" font-size="10.0" fill="#1d1d1b" text-anchor="middle" stroke="#1d1d1b" stroke-width="0.30">50</text>
<text transform="translate(650.75 1145.60) scale(0.76 1)" font-size="10.0" fill="#1d1d1b" text-anchor="middle" stroke="#1d1d1b" stroke-width="0.30">D+</text>
<text transform="translate(492.00 1169.70) scale(0.64 1)" font-size="20.0" fill="#2e3192" text-anchor="middle" stroke="#2e3192" stroke-width="0.32">28</text>
<text transform="translate(516.75 1169.70) scale(0.64 1)" font-size="20.0" fill="#2e3192" text-anchor="middle" stroke="#2e3192" stroke-width="0.32">29</text>
<text transform="translate(541.25 1169.70) scale(0.64 1)" font-size="20.0" fill="#2e3192" text-anchor="middle" stroke="#2e3192" stroke-width="0.32">27</text>
<text transform="translate(565.50 1169.70) scale(0.64 1)" font-size="20.0" fill="#2e3192" text-anchor="middle" stroke="#2e3192" stroke-width="0.32">30</text>
<text transform="translate(589.25 1169.70) scale(0.64 1)" font-size="20.0" fill="#2e3192" text-anchor="middle" stroke="#2e3192" stroke-width="0.32">31</text>
<path d="M498.75 1130.00 L493.00 1153.50" stroke="#1d1d1b" stroke-width="0.90"/>
<path d="M527.00 1130.00 L520.00 1153.50" stroke="#1d1d1b" stroke-width="0.90"/>
<path d="M568.75 1142.00 L567.00 1153.50" stroke="#1d1d1b" stroke-width="0.90"/>
<path d="M585.00 1130.00 L589.25 1153.50" stroke="#1d1d1b" stroke-width="0.90"/>
<ellipse cx="82" cy="1019.5" rx="20.8" ry="24.3" fill="#fbcf9f" stroke="#1d1d1b" stroke-width="1.3"/>
<path d="M81.50 995.00 L81.50 1019.50" stroke="#1d1d1b" stroke-width="1.20"/>
<path d="M82.00 1019.50 L93.00 1019.50" stroke="#1d1d1b" stroke-width="1.20"/>
<path d="M93.00 1016.30 L93.00 1022.70" stroke="#1d1d1b" stroke-width="1.20"/>
<circle cx="74.25" cy="1004.50" r="3.6" fill="#cb6a2f" stroke="#3a2010" stroke-width="1.1"/>
<circle cx="89.50" cy="1004.50" r="3.6" fill="#cb6a2f" stroke="#3a2010" stroke-width="1.1"/>
<circle cx="66.25" cy="1019.50" r="3.6" fill="#cb6a2f" stroke="#3a2010" stroke-width="1.1"/>
<circle cx="82.00" cy="1019.50" r="3.6" fill="#cb6a2f" stroke="#3a2010" stroke-width="1.1"/>
<circle cx="97.00" cy="1019.50" r="3.6" fill="#cb6a2f" stroke="#3a2010" stroke-width="1.1"/>
<circle cx="74.25" cy="1034.50" r="3.6" fill="#cb6a2f" stroke="#3a2010" stroke-width="1.1"/>
<circle cx="89.50" cy="1034.50" r="3.6" fill="#cb6a2f" stroke="#3a2010" stroke-width="1.1"/>
<text transform="translate(60.50 994.70) scale(0.64 1)" font-size="20.0" fill="#2e3192" text-anchor="middle" stroke="#2e3192" stroke-width="0.32">18</text>
<rect x="18.70" y="1083.00" width="16.60" height="32.80" fill="#fbcf9f" stroke="#1c3040" stroke-width="1.6"/>
<polygon points="21.00,1086.60 33.00,1086.60 27.00,1099.00" fill="#2a2a2a" stroke="none"/>
<polygon points="21.00,1112.40 33.00,1112.40 27.00,1100.00" fill="#2a2a2a" stroke="none"/>
<rect x="40.45" y="1083.00" width="16.60" height="32.80" fill="#fbcf9f" stroke="#1c3040" stroke-width="1.6"/>
<polygon points="42.75,1086.60 54.75,1086.60 48.75,1099.00" fill="#2a2a2a" stroke="none"/>
<polygon points="42.75,1112.40 54.75,1112.40 48.75,1100.00" fill="#2a2a2a" stroke="none"/>
<rect x="62.20" y="1083.00" width="16.60" height="32.80" fill="#fbcf9f" stroke="#1c3040" stroke-width="1.6"/>
<polygon points="64.50,1086.60 76.50,1086.60 70.50,1099.00" fill="#2a2a2a" stroke="none"/>
<polygon points="64.50,1112.40 76.50,1112.40 70.50,1100.00" fill="#2a2a2a" stroke="none"/>
<rect x="84.70" y="1083.00" width="16.60" height="32.80" fill="#fbcf9f" stroke="#1c3040" stroke-width="1.6"/>
<polygon points="87.00,1086.60 99.00,1086.60 93.00,1099.00" fill="#2a2a2a" stroke="none"/>
<polygon points="87.00,1112.40 99.00,1112.40 93.00,1100.00" fill="#2a2a2a" stroke="none"/>
<rect x="106.70" y="1083.00" width="16.60" height="32.80" fill="#fbcf9f" stroke="#1c3040" stroke-width="1.6"/>
<polygon points="109.00,1086.60 121.00,1086.60 115.00,1099.00" fill="#2a2a2a" stroke="none"/>
<polygon points="109.00,1112.40 121.00,1112.40 115.00,1100.00" fill="#2a2a2a" stroke="none"/>
<rect x="127.95" y="1083.00" width="16.60" height="32.80" fill="#fbcf9f" stroke="#1c3040" stroke-width="1.6"/>
<polygon points="130.25,1086.60 142.25,1086.60 136.25,1099.00" fill="#2a2a2a" stroke="none"/>
<polygon points="130.25,1112.40 142.25,1112.40 136.25,1100.00" fill="#2a2a2a" stroke="none"/>
<text transform="translate(160.50 1133.20) scale(0.64 1)" font-size="20.0" fill="#2e3192" text-anchor="middle" stroke="#2e3192" stroke-width="0.32">17</text>
<rect x="226.30" y="1091.80" width="35.70" height="60.70" fill="#8dd6f7" stroke="#1c3040" stroke-width="1.6"/>
<text transform="translate(273.80 1133.20) scale(0.64 1)" font-size="20.0" fill="#2e3192" text-anchor="middle" stroke="#2e3192" stroke-width="0.32">16</text>
<path d="M226.30 1103.75 L262.00 1103.75" stroke="#1d1d1b" stroke-width="1.20"/>
<path d="M243.75 1091.80 L243.75 1100.00" stroke="#1d1d1b" stroke-width="1.20"/>
<circle cx="243.75" cy="1103.75" r="3.4" fill="#8dd6f7" stroke="#1d1d1b" stroke-width="1.2"/>
<path d="M240.00 1115.00 L247.50 1115.00" stroke="#1d1d1b" stroke-width="1.20"/>
<path d="M243.75 1111.20 L243.75 1118.80" stroke="#1d1d1b" stroke-width="1.20"/>
<path d="M240.00 1131.00 L247.50 1131.00" stroke="#1d1d1b" stroke-width="1.20"/>
<path d="M226.30 1139.30 L240.30 1139.30" stroke="#1d1d1b" stroke-width="1.20"/>
<circle cx="243.75" cy="1139.3" r="3.4" fill="#8dd6f7" stroke="#1d1d1b" stroke-width="1.2"/>
</svg>
</body></html>
